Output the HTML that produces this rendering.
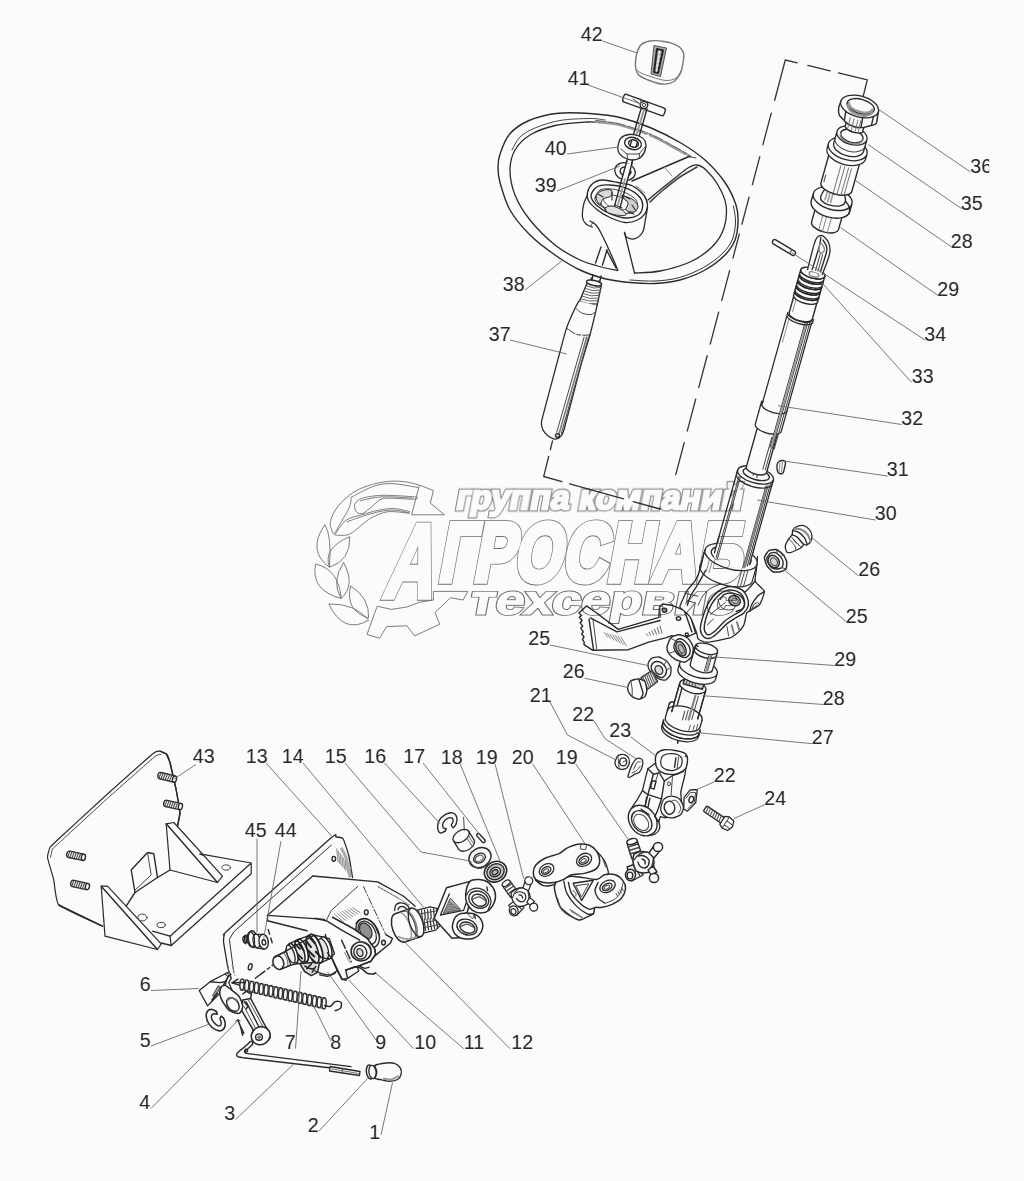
<!DOCTYPE html>
<html lang="ru">
<head>
<meta charset="utf-8">
<title>Рулевая колонка</title>
<style>
html,body{margin:0;padding:0;background:#fafbfa;}
body{width:1024px;height:1181px;overflow:hidden;font-family:"Liberation Sans",sans-serif;}
svg{display:block;position:absolute;left:0;top:0;}
.l{fill:none;stroke:#2a2a2a;stroke-width:1.4;stroke-linecap:round;stroke-linejoin:round;}
.t{fill:none;stroke:#484848;stroke-width:1;stroke-linecap:round;stroke-linejoin:round;}
.f{fill:#fafbfa;stroke:#2a2a2a;stroke-width:1.4;stroke-linecap:round;stroke-linejoin:round;}
.d{fill:#444;stroke:none;}
.ld{fill:none;stroke:#6a6a6a;stroke-width:0.9;}
.n{font-family:"Liberation Sans",sans-serif;font-size:19.6px;fill:#2a2a2a;}
</style>
</head>
<body>
<svg width="1024" height="1181" viewBox="0 0 1024 1181" style="filter:grayscale(1)">
<rect x="0" y="0" width="1024" height="1181" fill="#fafbfa"/>
<!-- 10_dash.svg -->
<path class="l" d="M862.6 98.5 L867.3 79.8 L785.3 60 L675 477.5" style="stroke:#333;stroke-width:1.3;stroke-dasharray:49 8.5 23 11 54 13 33 12 29 13 28 10 25 13 31 12 33 12 33 12 33 12 33 12 33 12"/>
<path class="l" d="M552.5 441 L543.7 476.5" style="stroke:#333;stroke-width:1.3;stroke-dasharray:9 7 20 5"/>
<path class="l" d="M543.7 476.5 L660 509" style="stroke:#333;stroke-width:1.3;stroke-dasharray:19 8 56 10 30 6"/>

<!-- 20_wheel.svg -->
<path class="l" d="M498 168 C498 163.4 497.9 160.3 499.8 154.7 C501.7 149.1 504.6 139.9 509.5 134.2 C514.4 128.5 520.9 124 529 120.5 C537.1 117 547.8 114.3 558.4 113.2 C569 112.1 582.2 113 592.5 113.7 C602.8 114.4 610.4 115.2 620 117.5 C629.6 119.8 640 123.3 650 127.5 C660 131.7 670.8 137.1 680 142.5 C689.2 147.9 697.5 153.3 705 160 C712.5 166.7 719.8 175 725 182.5 C730.2 190 733.8 198.4 736 205 C738.2 211.6 738.2 216.2 738 222 C737.8 227.8 737.2 234.5 735 240 C732.8 245.5 730 250 725 255 C720 260 712.5 265.8 705 270 C697.5 274.2 688.3 277.8 680 280 C671.7 282.2 663.3 283.1 655 283.5 C646.7 283.9 638.3 283.3 630 282.5 C621.7 281.7 613.3 280.8 605 278.7 C596.7 276.6 588.3 273.9 580 270 C571.7 266.1 563.3 260.8 555 255 C546.7 249.2 537.5 242.5 530 235 C522.5 227.5 515 218.8 510 210 C505 201.2 502 189.5 500 182.5 C498 175.5 498 172.6 498 168Z" style="stroke-width:1.4"/>
<path class="t" d="M733.5 206 C733.8 208.7 735.7 216.5 735.5 222 C735.3 227.5 734.6 233.8 732.5 239 C730.4 244.2 727.8 248.2 723 253 C718.2 257.8 710.8 263.4 703.5 267.5 C696.2 271.6 687.6 275.2 679.5 277.5 C671.4 279.8 663.2 280.6 655 281 C646.8 281.4 634.2 280.2 630 280" style="stroke:#333"/>
<path class="l" d="M600 122.5 C597.9 122.4 595 121.5 587.5 122 C580 122.5 564.6 123.3 555 125.5 C545.4 127.7 536.7 130.9 530 135 C523.3 139.1 518.3 144.2 515 150 C511.7 155.8 510 162.5 510 170 C510 177.5 511.7 186.7 515 195 C518.3 203.3 523.3 211.7 530 220 C536.7 228.3 546.7 238.3 555 245 C563.3 251.7 572.9 256.5 580 260 C587.1 263.5 591.3 264.2 597.5 266 C603.7 267.8 613.8 269.8 617 270.5" style="stroke-width:1.3"/>
<path class="t" d="M512 150 C513.3 147.8 516.2 140.7 520 137 C523.8 133.3 528.3 130.8 535 128 C541.7 125.2 550.8 122.1 560 120.5 C569.2 118.9 582.5 118.6 590 118.5 C597.5 118.4 602.5 119.8 605 120"/>
<path class="t" d="M596 121.5 C600 122.1 611 122.8 620 125 C629 127.2 640.8 131.2 650 135 C659.2 138.8 668.3 144.4 675 148 C681.7 151.6 687.5 155.1 690 156.5" style="stroke:#9a9a9a;stroke-width:2.8;stroke-dasharray:16 2 22 3 9 4"/>
<path class="t" d="M596 120.5 C600 121.1 611 121.8 620 124 C629 126.2 640.8 130.2 650 134 C659.2 137.8 668.3 143.4 675 147 C681.7 150.6 687.5 154.1 690 155.5" style="stroke:#555;stroke-width:0.8;stroke-dasharray:10 3 5 2"/>
<path class="l" d="M634.5 273 C638.8 272.7 650.8 272.8 660 271 C669.2 269.2 681.3 266 690 262 C698.7 258 706.3 252.7 712 247 C717.7 241.3 721.7 235 724 228 C726.3 221 727 212.2 726 205 C725 197.8 721.3 190.8 718 185 C714.7 179.2 709.5 173.3 706 170 C702.5 166.7 700 165.3 697 165 C694 164.7 691.7 165.8 688 168 C684.3 170.2 679.7 174.3 675 178 C670.3 181.7 664.5 186.3 660 190 C655.5 193.7 650 198.3 648 200" style="stroke-width:1.3"/>
<path class="t" d="M697 167 C694.2 168.7 685.8 173 680 177 C674.2 181 667 186.8 662 191 C657 195.2 652 200.2 650 202" style="stroke-width:1.6;stroke:#444"/>
<path class="l" d="M632 181 L689 156.5"/>
<path class="t" d="M689 156.5 L696 158"/>
<path class="t" d="M664 167 L672 176" style="stroke:#888"/>
<path class="t" d="M636 186 L645 193" style="stroke:#888"/>
<path class="f" d="M587.5 192.5 C588.1 189.6 590 185.8 592.5 183.7 C595 181.6 598.3 180.2 602.5 180 C606.7 179.8 612.5 181.5 617.5 182.5 C622.5 183.5 628.1 183.9 632.5 186 C636.9 188.1 641.2 191.8 643.7 195 C646.2 198.2 647.3 201.9 647.5 205 C647.7 208.1 646.7 211.2 645 213.7 C643.3 216.2 640.8 218.5 637.5 220 C634.2 221.5 629.6 222.9 625 222.5 C620.4 222.1 614.6 219.6 610 217.5 C605.4 215.4 601 212.8 597.5 210 C594 207.2 590.4 203.9 588.7 201 C587 198.1 586.9 195.4 587.5 192.5Z" style="stroke-width:1.3"/>
<path class="l" d="M591 196 C591 192.8 594.3 188.3 597.5 186.5 C600.7 184.7 605 184.6 610 185 C615 185.4 622.5 186.6 627.5 188.7 C632.5 190.8 637.5 194.4 640 197.5 C642.5 200.6 642.9 204.5 642.5 207.5 C642.1 210.5 640.4 213.8 637.5 215.5 C634.6 217.2 629.6 218.3 625 218 C620.4 217.7 614.6 215.7 610 213.7 C605.4 211.7 600.7 208.9 597.5 206 C594.3 203.1 591 199.2 591 196Z"/>
<path class="t" d="M595 198 C595.3 195.7 597.2 191.5 600 190 C602.8 188.5 607.7 188.5 612 189 C616.3 189.5 622 191.2 626 193 C630 194.8 634.2 197.5 636 200 C637.8 202.5 637.8 205.8 637 208 C636.2 210.2 633.8 212.2 631 213 C628.2 213.8 624 213.7 620 213 C616 212.3 610.7 210.5 607 209 C603.3 207.5 600 205.8 598 204 C596 202.2 594.7 200.3 595 198Z"/>
<path class="t" d="M603 199 C603 197 607.2 195.3 610 195 C612.8 194.7 617 195.8 620 197 C623 198.2 626.7 200.2 628 202 C629.3 203.8 629.3 206.7 628 208 C626.7 209.3 623 210.2 620 210 C617 209.8 612.8 208.8 610 207 C607.2 205.2 603 201 603 199Z"/>
<path class="l" d="M596 197 C596.2 194.7 598.5 192.2 601 191 C603.5 189.8 609.3 189.2 611 190 C612.7 190.8 612.3 194.5 611 196 C609.7 197.5 604.8 197.5 603 199 C601.2 200.5 601.2 205.3 600 205 C598.8 204.7 595.8 199.3 596 197Z" style="fill:#d9d9d9;stroke-width:1"/>
<path class="l" d="M622 196 C622.7 195.3 629.3 197.3 632 199 C634.7 200.7 637.7 203.8 638 206 C638.3 208.2 636 211.3 634 212 C632 212.7 627 211.5 626 210 C625 208.5 628.7 205.3 628 203 C627.3 200.7 621.3 196.7 622 196Z" style="fill:#cfcfcf;stroke-width:1"/>
<path class="l" d="M605 208 C605.8 207 609.2 205.7 612 206 C614.8 206.3 619.7 208.5 622 210 C624.3 211.5 627 214.2 626 215 C625 215.8 619.2 215.5 616 215 C612.8 214.5 608.8 213.2 607 212 C605.2 210.8 604.2 209 605 208Z" style="fill:#e0e0e0;stroke-width:1"/>
<path class="l" d="M600 203 L606 210 M612 192 L612 200 M622 195 L630 199 M632 205 L636 211 M615 205 L622 208 M598 194 L603 197 M628 212 L634 214" style="stroke-width:1.1"/>
<path class="l" d="M587 196 C586.4 197.5 584.2 201.4 583.5 205 C582.8 208.6 582.1 214.3 582.5 217.5 C582.9 220.7 584.4 222.4 586 224 C587.6 225.6 591 226.5 592 227" style="stroke-width:1.3"/>
<path class="l" d="M647.5 207.5 C647.1 209.9 645.8 217.8 645 222 C644.2 226.2 644.2 229.7 642.5 232.5 C640.8 235.3 637.6 237.9 635 238.7 C632.4 239.5 628.8 238.5 627 237.5 C625.2 236.5 624.9 233.3 624.5 232.5" style="stroke-width:1.3"/>
<path class="l" d="M590 221 C591 221.7 594.2 223 596 225 C597.8 227 598.7 228.5 601 233 C603.3 237.5 607.2 245.8 610 252 C612.8 258.2 616.7 267.4 618 270.5" style="stroke-width:1.3"/>
<path class="l" d="M624.5 232.5 L634.5 273" style="stroke-width:1.3"/>
<path class="t" d="M592 227 Q590 224 594 222"/>
<path class="l" d="M601 247 L595.5 263 M607 250 L602.5 265 M591.5 278 L589.5 284 M599 281 L598 284"/>
<path class="l" d="M606.5 250 L616 268"/>

<!-- 21_wheeltop.svg -->
<path class="f" d="M640 46 C642.4 42.5 646 41.8 650 41 C654 40.2 659.3 40.7 664 41.5 C668.7 42.3 674.8 44.1 678 46 C681.2 47.9 682.7 50.2 683.5 53 C684.3 55.8 683.6 59.5 683 63 C682.4 66.5 681.7 70.8 680 74 C678.3 77.2 676 80.3 673 82 C670 83.7 666.2 84.3 662 84 C657.8 83.7 652 81.7 648 80 C644 78.3 640.1 77 638 74 C635.9 71 635.2 66.7 635.5 62 C635.8 57.3 637.6 49.5 640 46Z" style="stroke:#777"/>
<path class="t" d="M637 70 C637.7 70.5 638.5 71.8 641 73 C643.5 74.2 647.8 75.8 652 77 C656.2 78.2 662 80.3 666 80.5 C670 80.7 673.5 79.6 676 78 C678.5 76.4 680.2 72.2 681 71" style="stroke:#777"/>
<path d="M654 45.5 L666.5 48 L660.5 76.5 L651 74 Z" fill="#a8a8a8" stroke="#444" stroke-width="0.9"/>
<path class="t" d="M657 49 L663 50.5 L658 73 L654 72 Z" style="stroke:#222;stroke-width:2;stroke-dasharray:3 1.4"/>
<path class="t" d="M659.5 51 L656.5 71" style="stroke:#eee;stroke-width:1.6;stroke-dasharray:2.5 2"/>
<g transform="rotate(20 644 105)">
<rect class="f" x="622" y="101" width="44" height="8" rx="2.5"/>
</g>
<path class="l" d="M641 109 L631.5 141 M647 109 L637.5 142"/>
<path class="t" d="M644 110 L634.5 141" style="stroke:#999;stroke-width:2"/>
<ellipse class="f" cx="644" cy="105" rx="3.8" ry="3.4"/>
<ellipse class="t" cx="644" cy="105" rx="1.8" ry="1.6"/>
<path class="t" d="M633 99 L640 104 M640 98.5 L641 102"/>
<path class="f" d="M618 146 C618.4 143.7 619.2 139.9 621 138 C622.8 136.1 626 134.8 629 134.5 C632 134.2 636.3 134.9 639 136 C641.7 137.1 643.9 138.8 645 141 C646.1 143.2 646.2 146.3 645.5 149 C644.8 151.7 643.2 155.2 641 157 C638.8 158.8 635 160 632 160 C629 160 625.2 158.3 623 157 C620.8 155.7 619.3 153.8 618.5 152 C617.7 150.2 617.6 148.3 618 146Z" style="stroke-width:1.3"/>
<ellipse class="l" cx="633" cy="143.5" rx="8.5" ry="6" transform="rotate(15 633 143.5)"/>
<ellipse class="l" cx="633.5" cy="143.5" rx="5" ry="3.6" transform="rotate(15 633.5 143.5)"/>
<path class="t" d="M621 149 L627 154 L639 154 L645 147 M627 154 L628 159.5 M639 154 L640 158" style="stroke:#444"/>
<path class="l" d="M631.5 141 L630 146 M637.5 142 L636 147"/>
<path class="l" d="M627 160 L624 170 M632.5 160.5 L629.5 171"/>
<ellipse class="f" cx="625" cy="171.5" rx="10.5" ry="8.5" transform="rotate(20 625 171.5)" style="stroke-width:1.3"/>
<ellipse class="l" cx="625.5" cy="171.5" rx="5.5" ry="4.3" transform="rotate(20 625.5 171.5)"/>
<path class="f" d="M626.5 163 L621.5 181 L627 182.5 L632 164.5Z" style="stroke:none"/>
<path class="l" d="M626.8 161 L614.5 206 M632.3 162 L620 208"/>
<path class="t" d="M625 179 L617.5 206" style="stroke:#999;stroke-width:1.8"/>

<!-- 22_p37.svg -->
<path class="l" d="M593 275 L591.5 282 M601 276 L599.5 283"/>
<path class="f" d="M587.2 283 L578.8 302.8 L597.1 305.4 L601.6 284Z"/>
<ellipse class="f" cx="594" cy="283" rx="7.6" ry="2.6" transform="rotate(12 594 283)"/>
<path class="t" d="M587 286 Q593.6 289.4 601.2 287.5" style="stroke:#666"/>
<path class="t" d="M585.8 288.6 Q592.7 292 600.6 290.1" style="stroke:#666"/>
<path class="t" d="M584.7 291.1 Q591.8 294.6 599.9 292.8" style="stroke:#666"/>
<path class="t" d="M583.5 293.7 Q590.9 297.2 599.3 295.4" style="stroke:#666"/>
<path class="t" d="M582.3 296.3 Q590 299.8 598.7 298.1" style="stroke:#666"/>
<path class="t" d="M581.1 298.9 Q589.1 302.4 598.1 300.7" style="stroke:#666"/>
<path class="t" d="M580 301.4 Q588.2 305 597.4 303.4" style="stroke:#666"/>
<path class="f" d="M578.8 301.2 C578.2 302.3 575.6 306.8 574.2 309.9 C572.8 313.1 568.5 322.3 566.6 327.9 C564.7 333.6 560.7 349.2 558.2 358.4 C555.7 367.7 547.2 399.7 545.2 407.2 C543.3 414.7 541.7 419.8 541.4 422.4 C541.2 425.1 542.2 428.5 543 430.1 C543.7 431.6 546.3 434.4 547.5 435.4 C548.8 436.4 552.4 438.5 553.6 438.9 C554.9 439.3 557.4 438.7 558.2 438.4 C559 438.2 559.8 437.6 560.5 436.5 C561.2 435.3 562 436.6 564.3 428.5 C566.6 420.5 577.3 378.6 580.3 367.6 C583.3 356.5 588.3 341.3 590.2 334 C592.2 326.8 596.3 308.7 597.1 305.4" style="stroke-width:1.3"/>
<path class="t" d="M575.7 308.1 C576.7 308.9 579.3 311.9 581.8 313 C584.4 314.1 588.6 314.8 591 314.5 C593.3 314.2 595 311.7 595.9 311.2"/>
<path class="t" d="M567.3 328.7 C568.7 329.6 573.1 332.9 575.7 334 C578.4 335.1 580.9 335.1 583.4 335.2 C585.8 335.4 589.1 334.9 590.2 334.8" style="stroke:#333;stroke-dasharray:9 2 4 2"/>
<path class="t" d="M586.7 337.1 L559 433.9" style="stroke:#777;stroke-width:1.6"/>
<path class="t" d="M584.1 337.1 L556.7 432.3"/>
<path class="t" d="M588.5 337.1 L561.2 433.9"/>
<ellipse class="l" cx="557.5" cy="435.5" rx="2" ry="1.8"/>

<!-- 30_coltop.svg -->
<g transform="translate(859.6 106.5) rotate(15.7)">
<path class="f" d="M-15 110 L-15 124 A14 6.5 0 0 0 13 124 L13 110"/>
<path class="t" d="M-6 112 L-6 129 M-2 112.5 L-2 130 M3 112 L3 130" style="stroke:#888"/>
<path class="f" d="M-21 96 L-21 104 A20 11 0 0 0 19 104 L19 96 A20 11 0 0 0 -21 96 A20 11 0 0 0 19 96"/>
<path class="f" d="M-13 97 C-12.8 94.8 -11.8 90 -10 88 C-8.2 86 -4.8 85.2 -2 85 C0.8 84.8 4.7 85.3 7 87 C9.3 88.7 11.8 92.7 12 95 C12.2 97.3 10.5 99.7 8 101 C5.5 102.3 0.2 103 -3 103 C-6.2 103 -9.3 102 -11 101 C-12.7 100 -13.2 99.2 -13 97Z"/>
<path class="t" d="M-8 90 L-8 99 M-5 88 L-5 100 M-2 88 L-2 100" style="stroke:#999;stroke-width:1.6"/>
<path class="l" d="M12 95 Q19 99 19 106"/>
<path class="f" d="M-16.5 54 L-16.5 84 A16 7 0 0 0 15.5 84 L15.5 54"/>
<path class="t" d="M-2 62 L-2 90 M2 62 L2 91 M6 62 L6 90 M9 62 L9 89" style="stroke:#777"/>
<path class="t" d="M-14 75 L-14 82"/>
<path class="f" d="M-20 44 L-20 49 A20 11 0 0 0 20 49 L20 44 A20 11 0 0 0 -20 44 A20 11 0 0 0 20 44" style="stroke-width:1.3"/>
<path class="f" d="M-15 30 L-15 42 A15.5 9 0 0 0 16 42 L16 30 A15.5 9 0 0 0 -15 30 A15.5 9 0 0 0 16 30" style="stroke-width:1.3"/>
<ellipse class="l" cx="0.5" cy="30.5" rx="11.5" ry="6.3"/>
<path class="t" d="M-11 31.5 A11.5 6.3 0 0 0 12 31.5" style="stroke:#888;stroke-width:1.5"/>
<path class="t" d="M-15 37 A15.5 9 0 0 0 16 37"/>
<path class="f" d="M-19.5 0 C-19.5 0.9 -20.1 5.1 -19.8 7 C-19.5 8.9 -18.4 12.4 -17 14 C-15.6 15.6 -10.2 17.7 -9 19 C-7.8 20.3 -9.2 23 -8 24 C-6.8 25 -2.3 26.4 0 26.5 C2.3 26.6 8.2 25.5 9.5 24.5 C10.8 23.5 8.6 20.6 10 19 C11.4 17.4 18.9 14.4 20.2 12.5 C21.5 10.6 20.1 6.8 20 5 C19.9 3.2 19.5 -0.2 19.4 -1" style="stroke-width:1.4"/>
<path class="l" d="M-9 19 Q0 23 10 19"/>
<ellipse class="f" cx="0" cy="0" rx="19.5" ry="10.5" style="stroke-width:1.3"/>
<ellipse class="l" cx="1" cy="-0.5" rx="14" ry="7"/>
<path class="t" d="M-12 1.5 A13 6.5 0 0 0 14 1.5" style="stroke:#888;stroke-width:1.6"/>
<path class="t" d="M-10.5 3.5 A11.5 5.5 0 0 0 12.5 3.5" style="stroke:#999;stroke-width:1.2"/>
<path class="l" d="M-12 8.5 L-11 16.5 M6 10.3 L7 19.5 M16 6 L16.5 14.5"/>
<path class="t" d="M-6 13 L-5.5 24 M-2 13.5 L-1.5 25 M2 13.5 L2.5 25 M5 13 L5.5 24" style="stroke:#777"/>
<path class="t" d="M-11 -0.5 A12 5.6 0 0 0 13 -0.5" style="stroke:#999;stroke-width:2.4"/>
</g>

<!-- 31_tube.svg -->
<g transform="translate(755.5 475) rotate(15.7)">
<path class="f" d="M-18.5 0 L-18.5 84 L18.5 84 L18.5 0Z" style="stroke:none"/>
<path class="l" d="M-18.5 0 L-18.5 80 M18.5 0 L18.5 84" style="stroke-width:1.3"/>
<path class="t" d="M-15.5 6 L-15.5 78 M-14 6 L-14 78" style="stroke:#444"/>
<path class="t" d="M13 8 L13 86 M15 7 L15 86 M16.8 5 L16.8 86" style="stroke:#333"/>
<path class="t" d="M14 8 L14 86" style="stroke:#888;stroke-width:2.2"/>
<ellipse class="f" cx="0" cy="0" rx="18.5" ry="8" style="stroke-width:1.3"/>
<path class="l" d="M-18.5 0 L-18.5 4 A18.5 8 0 0 0 18.5 4 L18.5 0" style="stroke-width:1.2"/>
<ellipse class="l" cx="0.5" cy="-1" rx="13.5" ry="5.5"/>
<path class="t" d="M-3 -4 L-2 1 M1 -4 L2 2" style="stroke:#666;stroke-width:1.4"/>
</g>

<!-- 32_shaft.svg -->
<g transform="translate(859.6 106.5) rotate(15.7)">
<path class="f" d="M-11.5 338.1 L-11.5 377.6 A10.5 4.5 0 0 0 9.5 377.6 L9.5 338.1"/>
<path class="t" d="M5 342.3 L5 375.5 M7.5 342.3 L7.5 375.5"/>
<path class="f" d="M-14.5 310.1 L-14.5 334 A13.5 5.5 0 0 0 12.5 334 L12.5 310.1" style="stroke-width:1.3"/>
<path class="f" d="M-13.3 221.8 L-13.3 313.2 A12.8 5 0 0 0 12.3 313.2 L12.3 221.8" style="stroke-width:1.3"/>
<path class="l" d="M-13.3 310.1 L-14.5 315.3"/>
<path class="t" d="M6 219.7 L6 352.7 M8.5 219.7 L8.5 352.7 M10.5 219.7 L10.5 352.7" style="stroke:#444"/>
<path class="t" d="M7.3 219.7 L7.3 352.7" style="stroke:#999;stroke-width:1.6"/>
<path class="t" d="M-10.5 223.9 L-10.5 247.7" style="stroke:#999"/>
<path class="l" d="M-13.5 217.6 A13.5 5.5 0 0 0 13.5 217.6 M-13.5 220.1 A13.5 5.5 0 0 0 13.5 220.1" style="stroke-width:1.2"/>
<path class="f" d="M-12 201 L-12 217.6 A12 5 0 0 0 12 217.6 L12 201"/>
<path class="t" d="M-9 204.1 L-9 215.5" style="stroke:#888"/>
<path class="f" d="M-12.5 177 A12.5 5 0 0 0 12.5 177 L12.5 173 A12.5 5 0 0 1 -12.5 173Z"/>
<path class="l" d="M-12.5 173 A12.5 5 0 0 0 12.5 173"/>
<path class="f" d="M-12.5 182.6 A12.5 5 0 0 0 12.5 182.6 L12.5 178.6 A12.5 5 0 0 1 -12.5 178.6Z"/>
<path class="l" d="M-12.5 178.6 A12.5 5 0 0 0 12.5 178.6"/>
<path class="f" d="M-12.5 188.2 A12.5 5 0 0 0 12.5 188.2 L12.5 184.2 A12.5 5 0 0 1 -12.5 184.2Z"/>
<path class="l" d="M-12.5 184.2 A12.5 5 0 0 0 12.5 184.2"/>
<path class="f" d="M-12.5 193.8 A12.5 5 0 0 0 12.5 193.8 L12.5 189.8 A12.5 5 0 0 1 -12.5 189.8Z"/>
<path class="l" d="M-12.5 189.8 A12.5 5 0 0 0 12.5 189.8"/>
<path class="f" d="M-12.5 199.4 A12.5 5 0 0 0 12.5 199.4 L12.5 195.4 A12.5 5 0 0 1 -12.5 195.4Z"/>
<path class="l" d="M-12.5 195.4 A12.5 5 0 0 0 12.5 195.4"/>
<ellipse class="f" cx="0" cy="173" rx="12.5" ry="5"/>
<ellipse class="t" cx="1.5" cy="174" rx="5" ry="2.5" style="stroke:#888;stroke-width:1.5"/>
<path class="f" d="M-6 170.9 C-6.1 167.4 -6.6 149 -6.5 144.5 C-6.4 140.1 -6.1 138.9 -5.5 137.5 C-4.9 136.2 -3 134.8 -2 134.5 C-1 134.3 0.8 134.9 2 135.5 C3.2 136.2 5.9 138.1 7 139.5 C8.1 141 10 144.5 10.5 146.5 C11 148.5 11.1 151.1 11 154.5 C10.9 157.9 9.7 169.6 9.5 171.9" style="stroke-width:1.3"/>
<path class="l" d="M-2 136.5 C-1.8 137.9 -1.1 139 -1 144.5 C-0.9 150.1 -1.4 165.6 -1.5 169.8"/>
<path class="l" d="M1 138.5 C1.7 139.2 3.9 140.9 5 142.5 C6.1 144.2 7.2 144 7.5 148.5 C7.8 153.1 7.1 166.3 7 169.8"/>
<path class="t" d="M-1 142.5 C-0.7 141.5 1 142.7 2 143.5 C3 144.4 4.8 146.2 5 147.5 C5.2 148.9 3.8 151.2 3 151.5 C2.2 151.9 0.7 151 0 149.5 C-0.7 148 -1.3 143.5 -1 142.5Z" style="stroke:#888;stroke-width:1.4"/>
<path class="t" d="M2 152.5 L2 169.8 M4.5 152.5 L4.5 169.8"/>
</g>
<g transform="translate(772.8 240.8) rotate(31)"><rect class="f" x="0" y="-2.3" width="26" height="4.6" rx="2"/><path class="t" d="M21 -2.3 L21 2.3"/></g>
<path class="f" d="M777.5 471 C777.1 469.6 776.8 466.6 777 465 C777.2 463.4 778 462.2 779 461.5 C780 460.8 781.9 460.4 783 460.5 C784.1 460.6 785.2 460.8 785.5 462 C785.8 463.2 784.9 466.2 784.5 468 C784.1 469.8 783.8 472.1 783 473 C782.2 473.9 780.4 473.8 779.5 473.5 C778.6 473.2 777.9 472.4 777.5 471Z"/>
<path class="t" d="M780 463 L779 472 M782.5 462 L781.5 472" style="stroke:#888"/>

<!-- 33_pedal.svg -->
<path class="f" d="M578.9 612.9 L586.5 605.9 L597.3 613.5 L618.2 629.4 L658.9 617.3 L659.5 607.1 L662.7 604 L671.6 605.2 L684.3 610.3 L690.6 616.7 L695.7 633.2 L684.3 638.2 L671.6 635.7 L666.5 637.6 L648.7 642.1 L628.4 649.7 L592.9 650.3 L584 644.6 L584.2 642.1 L582.4 639.3 L584 637 L581.7 633.8 L583.3 631.9 L580.8 628.1 L582.7 626.2 L580.2 622.8 L582.1 620.5 L579.5 617.3 L581.4 615.4 L578.9 612.9Z" style="stroke-width:1.4"/>
<path class="l" d="M590.3 617.9 L617 631.9 L660.1 620.5"/>
<path class="l" d="M589 619.2 L593.5 649.7"/>
<path class="t" d="M592.9 618.6 L596.7 648.7"/>
<path class="t" d="M659.5 607.1 L660.8 617.3"/>
<path class="t" d="M604.3 632.5 L607.5 637" style="stroke:#888"/>
<path class="t" d="M607.1 633.3 L610.6 638.5" style="stroke:#888"/>
<path class="t" d="M609.9 634.1 L613.8 640" style="stroke:#888"/>
<path class="t" d="M612.7 634.8 L617 641.5" style="stroke:#888"/>
<path class="t" d="M615.4 635.6 L620.1 643.1" style="stroke:#888"/>
<path class="t" d="M618.2 636.3 L623.3 644.6" style="stroke:#888"/>
<path class="t" d="M621 637.1 L626.5 646.1" style="stroke:#888"/>
<path class="t" d="M646.2 633.8 L648.1 635.7" style="stroke:#666"/>
<path class="t" d="M649 632.3 L650.9 635.2" style="stroke:#666"/>
<path class="t" d="M651.8 630.8 L653.7 634.7" style="stroke:#666"/>
<path class="t" d="M654.5 629.2 L656.5 634.2" style="stroke:#666"/>
<path class="t" d="M657.3 627.7 L659.2 633.7" style="stroke:#666"/>
<path class="t" d="M660.1 626.2 L662 633.2" style="stroke:#666"/>
<ellipse class="l" cx="664.6" cy="610.3" rx="2.2" ry="2"/>
<ellipse class="t" cx="664.8" cy="610.5" rx="1" ry="0.9"/>
<ellipse class="l" cx="678.5" cy="618.6" rx="2.2" ry="1.8"/>
<ellipse class="l" cx="686.8" cy="634.4" rx="1.6" ry="1.4"/>
<path class="l" d="M684.3 610.3 L691.9 631.9"/>

<!-- 34_bracket.svg -->
<path class="f" d="M704.2 552 C703.7 554.1 701 566.9 699.9 570.3 C698.8 573.7 696.5 578.6 695 580.9 C693.6 583.2 688.8 587.9 687.4 590.1 C686 592.2 683.7 597.3 682.9 599.2 C682 601.2 679.8 605.6 679.8 606.8 C679.8 608.1 681.6 608.6 682.9 609.9 C684.1 611.1 688.9 614.8 690.5 617.5 C692.1 620.2 695.7 630.2 696.6 632.7 C697.5 635.2 697.2 637.8 698.1 638.8 C699 639.9 702.8 641.5 704.2 641.9 C705.6 642.2 707.8 642.2 710.3 641.9 C712.8 641.5 723 639.4 725.5 638.8 C728 638.3 730 638.2 731.6 637.3 C733.2 636.4 737.8 632.6 739.2 631.2 C740.6 629.8 743.1 626.5 743.8 625.1 C744.5 623.7 745 620.4 745.3 619 C745.7 617.6 746.1 614 746.8 612.9 C747.5 611.9 750 610.8 751.4 609.9 C752.8 609 757.8 606.6 759 605.3 C760.3 604.1 761.4 600.8 762.1 599.2 C762.7 597.6 764.5 593 764.4 591.6 C764.2 590.2 761.6 588.3 760.5 587 C759.5 585.8 755.7 582.9 755.2 580.9 C754.7 579 756 573.1 756.3 570.3 C756.5 567.4 757.4 558.2 757.5 556.6" style="stroke-width:1.3"/>
<g transform="translate(731 557) rotate(15.7)">
<ellipse class="f" cx="0" cy="0" rx="27" ry="12" style="stroke-width:1.3"/>
<ellipse class="l" cx="0" cy="-0.5" rx="20.5" ry="8.5"/>
<path class="l" d="M-27 0 L-27 14 A27 12 0 0 0 27 19 L27 0" style="stroke-width:1.2"/>
<path class="t" d="M14 11 L14 26 M17 10 L17 25 M20 9 L20 24" style="stroke:#555"/>
<path class="t" d="M-20 9 L-20 20 M-17 10 L-17 21" style="stroke:#888"/>
</g>
<g transform="translate(755.5 475) rotate(15.7)">
<path class="f" d="M-18.5 70 L-18.5 88 A18.5 7 0 0 0 18.5 88 L18.5 70Z" style="stroke:none"/>
<path class="l" d="M-18.5 70 L-18.5 86 M18.5 70 L18.5 88" style="stroke-width:1.3"/>
<path class="t" d="M-15.5 70 L-15.5 90 M-14 70 L-14 91" style="stroke:#444"/>
<path class="t" d="M13 70 L13 92 M15 70 L15 91 M16.8 70 L16.8 90" style="stroke:#333"/>
<path class="t" d="M14 70 L14 92" style="stroke:#888;stroke-width:2.2"/>
</g>
<path class="l" d="M755.2 580.9 C754.6 581.7 753.1 583.7 751.4 585.5 C749.8 587.3 746.8 590.8 745.3 591.6 C743.8 592.4 742.8 590.3 742.3 590.1"/>
<path class="l" d="M764.4 591.6 C763.2 592.4 759.7 593.9 757.5 596.2 C755.3 598.5 752.7 602.8 751.4 605.3 C750.1 607.9 750.1 610.4 749.9 611.4"/>
<path class="t" d="M751.4 609.9 L753.7 604.6 L757.5 602.3 L759.8 604.6"/>
<path class="t" d="M752.9 608.4 L757.5 605.3"/>
<path class="f" d="M727 587 C724.5 587.7 720.6 589.3 717.9 591.6 C715.1 593.9 711 598.4 708.8 602.3 C706.5 606.2 703.9 613.4 702.7 617.5 C701.4 621.6 700.1 626.7 700.4 629.7 C700.6 632.7 702.7 636 704.2 637.3 C705.7 638.6 708.2 638.8 710.3 638.1 C712.3 637.4 715.4 634.9 717.9 632.7 C720.4 630.6 724.3 625.9 727 623.6 C729.8 621.3 733.7 619.1 736.2 617.5 C738.7 615.9 742 614.8 743.8 612.9 C745.6 611.1 747.9 607.8 748.4 605.3 C748.8 602.8 747.8 598.5 746.8 596.2 C745.9 593.9 744.1 591.5 742.3 590.1 C740.4 588.7 736.9 587.5 734.6 587 C732.4 586.6 729.5 586.3 727 587Z" style="stroke-width:1.4"/>
<path class="l" d="M727 590.4 C724.9 591 721.7 592.6 719.4 594.6 C717.1 596.7 713.9 600.1 711.8 603.8 C709.7 607.4 706.8 615.3 705.7 619 C704.6 622.8 704.1 626.7 704.2 628.9 C704.3 631.2 705.6 633.2 706.5 634 C707.4 634.8 708.8 634.9 710.3 634.3 C711.8 633.6 714.1 631.7 716.4 629.7 C718.7 627.6 722.8 622.8 725.5 620.5 C728.3 618.3 732.3 615.9 734.6 614.5 C737 613 740 612.1 741.5 610.6 C743 609.2 744.3 606.5 744.6 604.6 C744.8 602.6 744.2 599.4 743.5 597.7 C742.8 596 741.4 594.2 740 593.1 C738.5 592 735.8 590.8 733.9 590.4 C731.9 590 729.2 589.7 727 590.4Z"/>
<path class="l" d="M720.2 599.2 C720.8 598.5 722.1 595.7 724 594.6 C725.9 593.6 728.8 592.9 731.6 593.1 C734.4 593.4 738.6 594.5 740.7 596.2 C742.9 597.8 744.3 600.9 744.6 603 C744.8 605.2 743.7 607.7 742.3 609.1 C740.9 610.5 737.2 611 736.2 611.4"/>
<ellipse class="l" cx="734.6" cy="600.7" rx="6" ry="5" transform="rotate(25 734.6 600.7)" style="fill:#bbb"/>
<ellipse class="t" cx="735" cy="600.9" rx="3.4" ry="2.6" transform="rotate(25 735 600.9)" style="stroke:#555"/>
<path class="t" d="M717.9 599.2 C718.4 600.5 719.4 605.1 720.9 606.8 C722.5 608.6 725 609.5 727 609.9 C729.1 610.3 732.1 609.2 733.1 609.1"/>
<path class="t" d="M710.3 614.5 L725.5 602.3"/>
<path class="t" d="M707.2 625.1 L713.3 619"/>
<path class="t" d="M727 626.6 L728.6 635.8"/>
<path class="t" d="M731.6 625.1 L733.9 633.5" style="stroke:#777;stroke-width:1.8"/>
<path class="t" d="M736.9 622.1 L739.2 629.7" style="stroke:#777;stroke-width:1.8"/>
<path class="l" d="M705.7 570.3 C704.4 572.6 700.6 579.7 698.1 584 C695.5 588.3 692.2 592.6 690.5 596.2 C688.7 599.7 687.9 603.8 687.4 605.3"/>
<path class="t" d="M720.9 584 C719.2 584.7 713.3 586.5 710.3 588.6 C707.2 590.6 704.7 593.4 702.7 596.2 C700.6 599 698.8 603.8 698.1 605.3"/>
<path class="t" d="M684.4 593.1 L698.1 596.2"/>
<path class="t" d="M687.4 600.7 L695 603"/>

<!-- 36_nut25_fit26.svg -->
<path class="f" d="M786.7 551.9 C786 551 785 547.5 785.3 545.8 C785.6 544 787.8 540.4 788.7 538.9 C789.6 537.5 791.6 536 792.1 534.8 C792.7 533.6 792.2 531.1 792.8 530 C793.4 528.9 795.5 527.2 796.9 526.6 C798.4 526 802.1 525.2 803.7 525.6 C805.4 526 808.1 528 809.2 529.4 C810.3 530.7 811.8 533.9 811.9 535.5 C812.1 537.1 811.3 540.4 810.6 541.7 C809.9 542.9 807.4 544.7 806.5 545.1 C805.6 545.4 804.5 544 803.7 544.4 C803 544.8 802.1 547 801 547.8 C799.9 548.6 797 549.9 795.5 550.5 C794.1 551.2 791.3 552.4 790.1 552.6 C788.9 552.8 787.3 552.8 786.7 551.9Z" style="stroke-width:1.3"/>
<path class="l" d="M792.8 530.7 C793.7 530.9 796.3 530.9 798.3 532.1 C800.2 533.2 802.9 535.5 804.4 537.6 C805.9 539.6 806.7 543.3 807.2 544.4"/>
<path class="t" d="M794.2 528.7 C795.3 528.8 798.7 528.3 801 529.4 C803.3 530.4 806.3 532.9 807.8 534.8 C809.4 536.8 809.8 539.9 810.2 541" style="stroke:#888;stroke-width:2"/>
<path class="l" d="M792.1 534.8 C792.9 535.2 795.3 535.6 796.9 536.9 C798.5 538.1 800.6 541.1 801.7 542.3 C802.8 543.6 803.4 544 803.7 544.4"/>
<path class="t" d="M792.1 537.6 L795.5 542.3"/>
<path class="t" d="M793.8 539.5 L797.3 543.8"/>
<path class="t" d="M795.5 541.4 L799 545.3"/>
<path class="t" d="M797.3 543.3 L800.7 546.9"/>
<path class="t" d="M788.7 538.9 C789.3 539.5 791 541 792.1 542.3 C793.3 543.7 795 545.8 795.5 547.1 C796.1 548.5 795.5 550 795.5 550.5"/>
<path class="f" d="M764.4 557.4 C764.6 556.1 767.9 551.2 768.9 550.5 C769.9 549.9 775.2 549.2 776.4 549.5 C777.6 549.9 782.4 553.6 783.2 554.6 C784.1 555.6 786.4 560.3 786.7 561.5 C786.9 562.7 786.5 568.1 786 569 C785.5 569.9 781.6 571.5 780.5 571.7 C779.4 572 774.1 572.2 773 571.7 C771.8 571.2 767.5 566.8 766.8 565.6 C766.1 564.4 764.3 558.6 764.4 557.4Z" style="stroke-width:1.5"/>
<path class="l" d="M766.8 558.1 C767 557.3 769.5 553.7 770.3 553.3 C771 552.8 774.9 552.3 775.7 552.6 C776.6 552.9 779.9 555.9 780.5 556.7 C781.1 557.5 783.1 561.3 783.2 562.2 C783.4 563.1 782.4 567.1 781.9 567.6 C781.4 568.2 777.9 569 777.1 569 C776.2 569 772.4 568.1 771.6 567.6 C770.9 567.1 768.3 563.6 767.9 562.8 C767.5 562 766.6 558.9 766.8 558.1Z"/>
<ellipse class="l" cx="773.7" cy="561.5" rx="5.2" ry="6.6" transform="rotate(-35 773.7 561.5)" style="fill:#d5d5d5"/>
<ellipse class="t" cx="774" cy="561.8" rx="3" ry="4.2" transform="rotate(-35 774 561.8)"/>
<path class="t" d="M776.4 549.5 L777.1 552.6"/>
<path class="t" d="M783.2 554.6 L780.5 556.7"/>
<path class="t" d="M786 569 L781.9 567.6"/>

<!-- 37_bolt26L.svg -->
<path class="f" d="M648.1 663.6 C648.3 662.6 650.2 659.2 651.2 658.6 C652.3 657.9 657.3 656.8 658.9 657 C660.4 657.3 665.3 660.1 666.5 661.1 C667.7 662.1 670.5 666 670.9 667.4 C671.3 668.8 670.9 673.8 670.3 675.1 C669.7 676.3 666.4 679.8 665.2 680.1 C664.1 680.5 660.1 679.5 658.9 678.9 C657.6 678.2 653.5 674.8 652.5 673.8 C651.5 672.8 649.2 669.7 648.7 668.7 C648.3 667.7 647.8 664.6 648.1 663.6Z" style="stroke-width:1.3"/>
<path class="l" d="M651.2 666.2 C651.4 665 652.8 663 653.8 662.4 C654.8 661.8 657.5 661.4 658.9 661.7 C660.2 662.1 662.9 663.8 663.9 664.9 C665 666 666.3 668.6 666.5 670 C666.7 671.3 665.9 674 665.2 675.1 C664.5 676.1 662.6 677.6 661.4 677.6 C660.2 677.6 657.5 675.9 656.3 675.1 C655.1 674.2 653.2 672.4 652.5 671.2 C651.8 670.1 651.1 667.4 651.2 666.2Z"/>
<ellipse class="l" cx="658.9" cy="670" rx="3.6" ry="4.6" transform="rotate(-30 658.9 670)" style="fill:#ddd"/>
<path class="t" d="M666.5 661.1 L663.9 664.9"/>
<path class="t" d="M670.9 667.4 L666.5 670"/>
<path class="f" d="M651.2 671.2 L641.1 677.6 L646.2 690.3 L657.6 681.4Z"/>
<path class="t" d="M643 677 L647.7 689" style="stroke:#666;stroke-width:1.2"/>
<path class="t" d="M644.8 675.8 L649.5 687.6" style="stroke:#666;stroke-width:1.2"/>
<path class="t" d="M646.6 674.7 L651.2 686.2" style="stroke:#666;stroke-width:1.2"/>
<path class="t" d="M648.3 673.5 L653 684.8" style="stroke:#666;stroke-width:1.2"/>
<path class="t" d="M650.1 672.4 L654.8 683.4" style="stroke:#666;stroke-width:1.2"/>
<path class="t" d="M651.9 671.2 L656.6 682" style="stroke:#666;stroke-width:1.2"/>
<path class="f" d="M627.8 686.5 C628 685.4 629.9 681.5 630.9 680.8 C632 680 637.2 678.8 638.6 678.9 C640 678.9 644.1 680.3 644.9 681.4 C645.7 682.5 646.8 688.8 646.8 690.3 C646.8 691.8 645.7 695.8 644.9 696.6 C644.1 697.5 639.8 699.2 638.6 699.2 C637.3 699.2 633.2 697.4 632.2 696.6 C631.2 695.9 628.8 692.6 628.4 691.6 C628 690.5 627.5 687.6 627.8 686.5Z" style="stroke-width:1.4"/>
<path class="l" d="M638.6 678.9 C639 680.1 640.4 684.1 641.1 686.5 C641.8 688.9 643 691.6 643 693.5 C643 695.4 641.4 697.2 641.1 697.9"/>
<path class="t" d="M630.9 680.8 L632.2 689 L632.2 696.6"/>

<!-- 38_lower_sleeves.svg -->
<g transform="translate(692.8 686.5) rotate(15.7)">
<path class="f" d="M-19 40 A19 9 0 0 0 19 40 L19 44 A19 9 0 0 1 -19 44Z" style="stroke-width:1.3"/>
<path class="l" d="M-19 44 A19 9 0 0 0 19 44" style="stroke-width:1.3"/>
<path class="l" d="M-19 47 A19 9 0 0 0 19 47" style="stroke-width:1.2"/>
<path class="l" d="M-19 40 L-19 47 M19 40 L19 47"/>
<path class="f" d="M-13.5 0 L-13.5 37 A13.5 6.5 0 0 0 13.5 37 L13.5 0 A13.5 6.5 0 0 0 -13.5 0 A13.5 6.5 0 0 0 13.5 0" style="stroke-width:1.3"/>
<path class="f" d="M-18 30 L-18 37 A18 8.5 0 0 0 18 37 L18 30" style="stroke-width:1.3"/>
<path class="l" d="M-18 30 A18 8.5 0 0 1 18 30"/>
<path class="l" d="M-13.5 0 L-13.5 30 M13.5 0 L13.5 30" style="stroke-width:1.3"/>
<path class="l" d="M-10 4 L-10 22"/>
<path class="t" d="M5 8 L5 33" style="stroke:#888;stroke-width:2.2"/>
<path class="t" d="M8 8 L8 32 M2 24 L2 34 M-1 26 L-1 35"/>
<path class="l" d="M-18 22 L-18 30 M-14 20 Q-18 20 -18 24"/>
<path class="t" d="M8 38 L8 44 M12 37 L12 43 M15 35 L15 41" style="stroke:#666"/>
<path class="f" d="M-10 -10 L-10 0 L10 0 L10 -10Z" style="fill:#ccc"/>
<path class="t" d="M-7 -9 L-7 -1 M-4 -9 L-4 0 M-1 -9 L-1 0 M2 -9 L2 0" style="stroke:#555"/>
<path class="f" d="M-19 -19 L-19 -13 A19.5 9 0 0 0 20 -13 L20 -19 A19.5 9 0 0 0 -19 -19 A19.5 9 0 0 0 20 -19" style="stroke-width:1.3"/>
<path class="f" d="M-8.5 -40 L-8.5 -21 A11.5 5 0 0 0 14.5 -21 L14.5 -40 A11.5 5 0 0 0 -8.5 -40 A11.5 5 0 0 0 14.5 -40" style="stroke-width:1.3"/>
<path class="l" d="M-8.5 -36 A11.5 5 0 0 0 14.5 -36"/>
<path class="t" d="M7 -34 L7 -18 M10 -35 L10 -19" style="stroke:#444"/>
<path class="t" d="M8.5 -34 L8.5 -18" style="stroke:#999;stroke-width:2"/>
<path class="l" d="M-6 -40 Q-10 -42 -8 -37"/>
</g>
<path class="l" d="M678 741 L677.6 743" style="stroke-width:1.6"/>
<path class="f" d="M667 647.6 C667.1 646.1 669.3 639.5 670.5 638.2 C671.6 636.9 676.9 634.7 678.7 634.7 C680.4 634.7 686.6 636.9 688 638.2 C689.5 639.5 693 645.7 693.3 647.6 C693.7 649.5 692.4 655.5 691.6 657 C690.7 658.4 686.2 662 684.5 662.2 C682.9 662.5 676.7 660.2 675.2 659.3 C673.6 658.4 669.5 654.6 668.7 653.4 C667.9 652.3 666.8 649.1 667 647.6Z" style="stroke-width:1.4"/>
<path class="l" d="M674 645.2 C674.3 643.7 676.3 640.1 677.5 639.4 C678.8 638.7 681.8 639 683.4 640 C684.9 640.9 688.4 644.6 689.2 646.4 C690.1 648.2 690.3 652 689.8 653.4 C689.3 654.9 687 657.2 685.7 657.5 C684.4 657.9 681.3 656.6 679.8 655.8 C678.4 654.9 675.9 652.5 675.2 651.1 C674.4 649.7 673.7 646.8 674 645.2Z"/>
<ellipse class="l" cx="681" cy="648.7" rx="4.6" ry="7.6" transform="rotate(-25 681 648.7)" style="fill:#bbb"/>
<ellipse class="t" cx="681.3" cy="649" rx="2.4" ry="4.6" transform="rotate(-25 681.3 649)" style="stroke:#444"/>
<path class="t" d="M670.5 638.2 L676.3 641.1"/>
<path class="t" d="M668.7 653.4 L675.2 651.1"/>

<!-- 40_yoke23.svg -->
<path class="f" d="M655.4 763.2 L647.9 768.7 L645.1 779.6 L642.4 790.6 L636.9 800.2 L631.4 808.4 L641 811.1 L654.7 816.6 L658.8 822 L660.2 816.6 L665.6 817.9 L676.6 813.8 L682 808.4 L680.7 792 L684.8 775.5 L687.5 757.8Z" style="stroke-width:1.3"/>
<path class="f" d="M661.5 804.3 C662 802.7 663 799.9 664.3 798.8 C665.5 797.7 669.1 796.1 671.1 796.1 C673.1 796.1 677.7 797.3 679.3 798.8 C680.9 800.2 683.2 804.9 683.4 807 C683.6 809.1 682.1 813.1 680.7 814.5 C679.2 816 674.7 817.8 672.5 817.9 C670.3 818.1 665.8 816.9 664.3 815.9 C662.7 814.9 661.2 812 660.8 810.4 C660.5 808.9 661.1 805.8 661.5 804.3Z" style="stroke-width:1.3"/>
<path class="l" d="M664.3 805.6 C664.5 804.2 666 802.4 667 801.8 C668 801.2 670 801 671.1 801.5 C672.2 802.1 674.1 804.1 674.5 805.6 C674.9 807.2 674.7 810.4 673.8 811.8 C673 813.1 670.3 814.6 669 814.5 C667.8 814.4 666.1 812.4 665.4 811.1 C664.6 809.8 664 807 664.3 805.6Z"/>
<path class="t" d="M671.1 801.5 C671.6 801.3 672.7 800 673.8 800.2 C675 800.3 676.8 800.8 677.9 802.2 C679.1 803.6 680.6 806.5 680.7 808.4 C680.8 810.2 679 812.3 678.6 813.1"/>
<path class="f" d="M655.4 760.5 C655.3 758.5 655.6 755.1 656.7 753.7 C657.9 752.3 661.6 750.2 664.3 749.8 C666.9 749.4 673.7 750.2 676.6 750.7 C679.4 751.2 684 752.5 685.5 753.7 C686.9 754.8 687.5 757.1 687.5 759.1 C687.5 761.1 686.9 766.7 685.5 768.7 C684 770.7 679.4 773.5 676.6 774.2 C673.7 774.8 666.8 774.2 664.3 773.5 C661.7 772.8 658.6 770.4 657.4 768.7 C656.2 767 655.5 762.5 655.4 760.5Z" style="stroke-width:1.4"/>
<path class="l" d="M660.8 760.5 C661 759 661.6 756.7 662.9 755.7 C664.2 754.7 667.5 753.8 669.7 753.7 C672 753.5 676.1 753.9 677.9 754.8 C679.8 755.6 681.6 757.4 682 759.1 C682.4 760.9 681.9 765 680.7 766.7 C679.4 768.3 676.1 769.9 673.8 770.4 C671.6 770.8 667.5 770.1 665.6 769.4 C663.8 768.7 662.2 767.3 661.5 766 C660.8 764.6 660.6 762 660.8 760.5Z" style="stroke-width:1.2"/>
<path class="l" d="M675.9 757.8 L674.5 767.3"/>
<path class="t" d="M678.6 757.1 L677.2 768"/>
<ellipse class="d" cx="685.9" cy="756.1" rx="1.2" ry="1.2"/>
<path class="l" d="M647.9 768.7 L653.3 774.2 L660.2 772.8"/>
<path class="l" d="M653.3 774.2 L647.9 794.7 L645.1 805.6"/>
<path class="l" d="M660.2 774.2 L664.3 781 L672.5 775.5 L683.4 771.4"/>
<path class="l" d="M664.3 781 L661.5 798.8 L657.4 811.1 L654.7 816.6"/>
<path class="t" d="M672.5 776.2 L671.1 794.7"/>
<path class="l" d="M642.4 790.6 L647.9 794.7 L661.5 798.8"/>
<path class="l" d="M652 781 L650.6 787.9 L654 789.2 L656.1 781 L652 781"/>
<path class="l" d="M646.5 797.4 L645.1 807 L647.9 807.7 L649.9 798.1"/>
<path class="t" d="M655.4 764.6 L658.8 771.4 L656.1 779.6"/>
<ellipse class="t" cx="669" cy="783.8" rx="1.5" ry="2"/>
<ellipse class="f" cx="642.7" cy="820.6" rx="13" ry="16.5" transform="rotate(-38 642.7 820.6)" style="stroke-width:1.4"/>
<ellipse class="l" cx="641.7" cy="821.6" rx="9" ry="12" transform="rotate(-38 641.7 821.6)"/>
<ellipse class="t" cx="641.2" cy="822.4" rx="6.5" ry="9" transform="rotate(-38 641.2 822.4)"/>
<path class="l" d="M654.7 816.6 C655.4 817.5 658 820 658.8 822 C659.6 824.1 660.2 826.8 659.5 828.9 C658.8 830.9 656.6 833.2 654.7 834.3 C652.8 835.5 649 835.5 647.9 835.7" style="stroke-width:1.3"/>
<path class="t" d="M641 809 L642.7 810.4" style="stroke:#333;stroke-width:1.2"/>
<path class="t" d="M642.7 810.1 L644.3 811.5" style="stroke:#333;stroke-width:1.2"/>
<path class="t" d="M644.3 811.2 L645.9 812.6" style="stroke:#333;stroke-width:1.2"/>
<path class="t" d="M645.9 812.3 L647.6 813.7" style="stroke:#333;stroke-width:1.2"/>
<path class="t" d="M647.6 813.4 L649.2 814.8" style="stroke:#333;stroke-width:1.2"/>
<path class="f" d="M615 761.9 C615.2 760.6 616.8 756.6 617.8 755.7 C618.7 754.8 622 754.2 623.2 754.4 C624.4 754.5 627.3 756.1 628 757.1 C628.7 758 629.6 761.3 629.4 762.6 C629.2 763.8 627.6 767.2 626.7 768 C625.7 768.8 622.4 769.6 621.2 769.4 C620 769.2 617.1 767.5 616.4 766.7 C615.7 765.8 614.9 763.2 615 761.9Z" style="stroke-width:1.3"/>
<ellipse class="l" cx="623.2" cy="761.9" rx="3.5" ry="4"/>
<path class="t" d="M617.8 755.7 L619.1 767.3"/>
<path class="t" d="M623.2 761.9 L626 760.5"/>
<path class="f" d="M628 776.2 C628.3 774.8 631.1 766.7 632.1 764.6 C633.2 762.5 635.8 759.1 636.9 758.5 C638 757.8 641 758.4 641.7 759.1 C642.4 759.9 642.9 763.1 642.7 764.6 C642.4 766.1 640.6 771 639.6 772.1 C638.7 773.2 636 773.6 634.9 774.2 C633.7 774.8 630.9 776.9 630.1 777.2 C629.3 777.4 627.8 777.7 628 776.2Z" style="stroke-width:1.3"/>
<path class="t" d="M633.5 769.4 C634.1 768.3 635.8 763.8 636.9 762.6 C638.1 761.3 639.8 762 640.3 761.9"/>
<path class="t" d="M632.1 772.8 C632.8 772.5 634.9 771.9 636.2 770.8 C637.6 769.6 639.6 766.8 640.3 766"/>
<path class="f" d="M684.1 797.4 L690.2 789.9 L697.3 789.5 L695.7 802.9 L687.5 811.1 L683.7 809Z" style="stroke-width:1.3"/>
<path class="t" d="M686.1 798.1 L690.2 792.6 L695.7 792.6 L694.3 802.2 L688.2 808.4"/>
<ellipse class="l" cx="691.3" cy="799.5" rx="2.2" ry="3.2" transform="rotate(20 691.3 799.5)"/>
<g transform="translate(705 808.5) rotate(34)">
<rect class="f" x="0" y="-3.2" width="24" height="6.4" rx="1.5"/>
<path class="t" d="M2 -3.2 L3.2 3.2"/>
<path class="t" d="M4.6 -3.2 L5.8 3.2"/>
<path class="t" d="M7.2 -3.2 L8.4 3.2"/>
<path class="t" d="M9.8 -3.2 L11 3.2"/>
<path class="t" d="M12.4 -3.2 L13.6 3.2"/>
<path class="t" d="M15 -3.2 L16.2 3.2"/>
<path class="t" d="M17.6 -3.2 L18.8 3.2"/>
<path class="f" style="stroke-width:1.3" d="M21 -4.6 L25 -6.6 L31 -5.6 L33 0 L31 5.6 L25 6.6 L21 4.6Z"/>
<path class="t" d="M25 -6.6 L25 6.6 M25 -2 L32.5 -1.5 M25 2.6 L32 3"/>
</g>

<!-- 42_yoke20.svg -->
<path class="f" d="M596.6 879.4 C600.9 879.2 601.9 875.3 604.4 874.7 C606.9 874.1 612.8 873.9 615.3 874.7 C617.8 875.5 621.8 879.1 623.1 880.9 C624.5 882.8 625.7 886.5 625.5 888.8 C625.3 891 623.3 896 621.6 898.1 C619.8 900.2 614.9 903.1 612.2 904.4 C609.5 905.6 603.5 907.1 601.2 907.5 C599 907.9 596 906.7 595 907.5 C594 908.3 594.5 912.5 593.4 913.8 C592.4 915 589.1 916 587.2 916.9 C585.3 917.7 581.7 920.2 579.4 920 C577.1 919.8 572.5 917 570 915.3 C567.5 913.6 562.4 909.8 560.6 907.5 C558.9 905.2 557.6 900.8 556.7 898.1 C555.9 895.4 554.3 889.5 554.4 887.2 C554.5 884.9 555.2 882.4 557.5 880.9 C559.8 879.5 566.4 876.5 571.6 876.2 C576.8 876 592.2 879.6 596.6 879.4Z" style="stroke-width:1.5"/>
<ellipse class="l" cx="607.5" cy="886.4" rx="8.2" ry="5.6" transform="rotate(-28 607.5 886.4)" style="stroke-width:1.3"/>
<ellipse class="l" cx="607.2" cy="886.9" rx="5.2" ry="3.2" transform="rotate(-28 607.2 886.9)"/>
<ellipse class="t" cx="606.9" cy="887.2" rx="3" ry="1.6" transform="rotate(-28 606.9 887.2)"/>
<path class="l" d="M598.1 882.5 C597.6 883.8 595 887.7 595 890.3 C595 892.9 596.6 896 598.1 898.1 C599.7 900.2 603.3 902 604.4 902.8"/>
<path class="t" d="M623.1 882.5 C622.6 884.3 621.6 890.6 620 893.4 C618.4 896.3 616.4 898 613.8 899.7 C611.1 901.4 605.9 902.9 604.4 903.6"/>
<path class="t" d="M616.1 893.4 L617.7 896.6" style="stroke:#555"/>
<path class="t" d="M618 891.6 L619.5 894.7" style="stroke:#555"/>
<path class="t" d="M619.8 889.7 L621.4 892.8" style="stroke:#555"/>
<path class="t" d="M621.7 887.8 L623.3 890.9" style="stroke:#555"/>
<path class="l" d="M573.1 883.3 L593.4 880.2 L581.7 900.5Z"/>
<path class="t" d="M576.2 885.6 L588.8 883.8 L581.7 896.6Z"/>
<path class="l" d="M563.8 880.9 C564.3 883 564.8 889.3 566.9 893.4 C569 897.6 572.9 902.6 576.2 905.9 C579.6 909.3 584.3 912.4 587.2 913.8 C590.1 915.1 592.4 913.8 593.4 913.8" style="stroke-width:1.3"/>
<path class="l" d="M568.4 882.5 C569 884.3 569.7 890.1 571.6 893.4 C573.4 896.8 576.5 900.2 579.4 902.8 C582.2 905.4 586.1 908.3 588.8 909.1 C591.4 909.8 594 907.8 595 907.5"/>
<path class="t" d="M573.1 890.3 C573.6 891 576 893.2 576.2 894.2 C576.5 895.3 574.9 896.2 574.7 896.6"/>
<path class="t" d="M570 909.4 L572.3 912.2" style="stroke:#777;stroke-width:1.3"/>
<path class="t" d="M572.2 910.8 L574.5 913.4" style="stroke:#777;stroke-width:1.3"/>
<path class="t" d="M574.4 912.2 L576.7 914.7" style="stroke:#777;stroke-width:1.3"/>
<path class="t" d="M576.6 913.6 L578.9 915.9" style="stroke:#777;stroke-width:1.3"/>
<path class="t" d="M578.8 915 L581.1 917.2" style="stroke:#777;stroke-width:1.3"/>
<path class="t" d="M580.9 916.4 L583.3 918.4" style="stroke:#777;stroke-width:1.3"/>
<path class="t" d="M557.5 898.1 C558.3 900.2 559.8 907.5 562.2 910.6 C564.5 913.8 568.7 915.3 571.6 916.9 C574.4 918.4 578.1 919.5 579.4 920"/>
<path class="f" d="M533.3 873.1 C533.3 871.2 534.1 867.3 535.6 865.3 C537.2 863.3 541.9 859.8 545 858.3 C548.1 856.7 556.1 854.9 559.1 853.6 C562 852.2 564.4 849.4 566.9 848.1 C569.4 846.9 574.9 844.6 577.8 844.2 C580.7 843.8 586.2 844.1 588.8 845 C591.2 845.9 595.1 849.2 596.6 851.2 C598 853.3 599.7 858.3 599.7 860.6 C599.7 862.9 598.4 866.8 596.6 868.4 C594.7 870.1 589 872.3 585.6 873.1 C582.3 874 574.5 873.9 571.6 874.7 C568.6 875.5 566 878.3 563.8 879.4 C561.5 880.4 557.1 882.1 554.4 882.5 C551.7 882.9 545.9 882.9 543.4 882.5 C540.9 882.1 537 880.6 535.6 879.4 C534.3 878.1 533.3 875 533.3 873.1Z" style="stroke-width:1.5"/>
<ellipse class="l" cx="546.6" cy="870" rx="7.8" ry="5.8" transform="rotate(-30 546.6 870)" style="stroke-width:1.3"/>
<ellipse class="l" cx="546.2" cy="870.5" rx="5" ry="3.3" transform="rotate(-30 546.2 870.5)"/>
<ellipse class="t" cx="545.9" cy="870.9" rx="3" ry="1.6" transform="rotate(-30 545.9 870.9)"/>
<ellipse class="l" cx="584.1" cy="859.8" rx="8" ry="6" transform="rotate(-30 584.1 859.8)" style="stroke-width:1.3"/>
<ellipse class="l" cx="583.8" cy="860.3" rx="5.2" ry="3.5" transform="rotate(-30 583.8 860.3)"/>
<ellipse class="t" cx="583.4" cy="860.8" rx="3" ry="1.7" transform="rotate(-30 583.4 860.8)"/>
<path class="l" d="M535.6 880.2 C536.9 881.1 540.4 884.8 543.4 885.6 C546.4 886.4 551.5 885.4 553.6 884.8 C555.7 884.3 555.5 882.9 555.9 882.5"/>
<path class="t" d="M580.9 845 L580.2 848.9 L585.6 849.7 L586.4 845.8"/>
<path class="l" d="M596.6 851.2 C597.9 852.8 602.4 857.2 604.4 860.6 C606.3 864 607.8 869.2 608.3 871.6 C608.8 873.9 607.6 874.2 607.5 874.7" style="stroke-width:1.3"/>
<path class="t" d="M593.4 848.1 C594.7 849.4 599.2 852.8 601.2 855.9 C603.3 859.1 604.9 865.1 605.6 866.9"/>

<!-- 43_spiders.svg -->
<g transform="translate(643 862) rotate(0) scale(1.0)">
<path class="f" style="stroke-width:1.4" d="M-16 -19 L-6 -22 L-1 -7 L-11 -3Z"/>
<ellipse class="f" style="stroke-width:1.4" cx="-11" cy="-20.5" rx="5.2" ry="2.8" transform="rotate(-15 -11 -20.5)"/>
<path class="l" style="stroke:#444;stroke-width:1.5" d="M-15 -15 L-5 -18 M-14 -11.5 L-4 -14.5 M-13 -8 L-3 -11"/>
<path class="f" style="stroke-width:1.4" d="M-16 5 L-5 1 L0 13 L-11 19Z"/>
<ellipse class="f" style="stroke-width:1.5" cx="-12.5" cy="13" rx="5" ry="5.8"/>
<ellipse class="l" cx="-13" cy="13.5" rx="2.8" ry="3.4"/>
<path class="l" style="stroke:#444" d="M-8 3.5 L-3.5 13.5 M-5 2.5 L-1.5 11"/>
<path class="f" style="stroke-width:1.6" d="M-9 -8 Q0 -13 9 -8 Q13 0 9 9 Q0 13 -7 9 Q-12 0 -9 -8Z"/>
<path class="l" d="M-5 -6 Q2 -8 6 -2 Q7 4 2 6 Q-4 6 -5 0 M-1 -3 Q3 -2 2 2"/>
<path class="l" style="stroke:#444" d="M-9 -2 Q-4 -10 4 -10 M6 8 Q10 4 10 -2"/>
<path class="f" d="M6 -9 L10 -15 L16 -10 L11 -4Z"/>
<circle class="f" style="stroke-width:1.5" cx="15" cy="-15" r="4.6"/>
<path class="f" d="M5 8 L8 13 L14 10 L10 4Z"/>
<circle class="f" style="stroke-width:1.5" cx="11" cy="16" r="4.6"/>
</g>
<g transform="translate(520.5 897) rotate(-18) scale(0.86)">
<path class="f" style="stroke-width:1.4" d="M-16 -19 L-6 -22 L-1 -7 L-11 -3Z"/>
<ellipse class="f" style="stroke-width:1.4" cx="-11" cy="-20.5" rx="5.2" ry="2.8" transform="rotate(-15 -11 -20.5)"/>
<path class="l" style="stroke:#444;stroke-width:1.5" d="M-15 -15 L-5 -18 M-14 -11.5 L-4 -14.5 M-13 -8 L-3 -11"/>
<path class="f" style="stroke-width:1.4" d="M-16 5 L-5 1 L0 13 L-11 19Z"/>
<ellipse class="f" style="stroke-width:1.5" cx="-12.5" cy="13" rx="5" ry="5.8"/>
<ellipse class="l" cx="-13" cy="13.5" rx="2.8" ry="3.4"/>
<path class="l" style="stroke:#444" d="M-8 3.5 L-3.5 13.5 M-5 2.5 L-1.5 11"/>
<path class="f" style="stroke-width:1.6" d="M-9 -8 Q0 -13 9 -8 Q13 0 9 9 Q0 13 -7 9 Q-12 0 -9 -8Z"/>
<path class="l" d="M-5 -6 Q2 -8 6 -2 Q7 4 2 6 Q-4 6 -5 0 M-1 -3 Q3 -2 2 2"/>
<path class="l" style="stroke:#444" d="M-9 -2 Q-4 -10 4 -10 M6 8 Q10 4 10 -2"/>
<path class="f" d="M6 -9 L10 -15 L16 -10 L11 -4Z"/>
<circle class="f" style="stroke-width:1.5" cx="15" cy="-15" r="4.6"/>
<path class="f" d="M5 8 L8 13 L14 10 L10 4Z"/>
<circle class="f" style="stroke-width:1.5" cx="11" cy="16" r="4.6"/>
</g>

<!-- 44_yoke14.svg -->
<path class="l" d="M394.6 910.3 C394.8 909.4 394.8 906.1 395.9 904.8 C397.1 903.6 399.5 902.6 401.4 902.8 C403.3 902.9 406.1 904.1 407.6 905.5 C409 906.9 409.8 910 410.3 911" style="stroke-width:1.3"/>
<path class="l" d="M398 909.6 C398.3 909.1 399 907.3 400 906.9 C401.1 906.4 403 906.4 404.1 906.9 C405.3 907.3 406.4 909.1 406.9 909.6"/>
<path class="f" d="M416.4 910.3 L430.1 906.9 L439 908.9 L440.4 925.3 L435.6 930.1 L424.6 932.8 L417.8 932.2Z" style="stroke-width:1.2"/>
<path class="t" d="M418.5 911 L419.3 919.2 L418 920.5 L419.6 931.5" style="stroke:#333;stroke-width:1.2"/>
<path class="t" d="M421.5 910.6 L422.3 918.9 L421 920.3 L422.6 930.9" style="stroke:#333;stroke-width:1.2"/>
<path class="t" d="M424.5 910.1 L425.3 918.6 L424 920 L425.6 930.4" style="stroke:#333;stroke-width:1.2"/>
<path class="t" d="M427.5 909.7 L428.3 918.3 L427 919.7 L428.6 929.8" style="stroke:#333;stroke-width:1.2"/>
<path class="t" d="M430.5 909.3 L431.3 918.1 L430 919.4 L431.6 929.3" style="stroke:#333;stroke-width:1.2"/>
<path class="t" d="M433.5 908.9 L434.4 917.8 L433 919.2 L434.6 928.7" style="stroke:#333;stroke-width:1.2"/>
<path class="t" d="M436.5 908.5 L437.4 917.5 L436 918.9 L437.6 928.2" style="stroke:#333;stroke-width:1.2"/>
<path class="t" d="M417.1 914.4 L439.7 910.3"/>
<path class="t" d="M417.5 923.9 L439.7 919.8"/>
<path class="t" d="M417.8 928.7 L439.7 924.6"/>
<g transform="translate(400 927.9) rotate(-19)">
<path class="f" style="stroke-width:1.5" d="M0 -15 L17 -15 A6.5 15 0 0 1 17 15 L0 15 A7.5 15 0 0 1 0 -15Z"/>
<path class="l" d="M9 -15 A6.5 15 0 0 1 9 15"/>
<path class="t" style="stroke:#888;stroke-width:2;stroke-dasharray:2 1.2" d="M11.5 -14.5 A6.5 15 0 0 1 11.5 14.5"/>
<path class="t" style="stroke:#999;stroke-width:1.6;stroke-dasharray:1.5 1.5" d="M6 -14 A6.5 15 0 0 1 6 14"/>
<path class="l" d="M17 -15 A6.5 15 0 0 0 17 15"/>
<path class="t" style="stroke:#999;stroke-width:1.8;stroke-dasharray:2 1.5" d="M-4 8 Q2 14.5 12 14.2"/>
</g>
<path class="f" d="M446.5 887.7 L469.1 881.6 L472.5 892.5 L467 913 L461.6 914.4 L458.8 918.5 L461.6 937.6 L452 938.3 L434.2 918.5Z" style="stroke-width:1.5"/>
<path class="l" d="M449.3 893.9 L440.4 915.1 L463.6 910.3 L467 900.7" style="stroke-width:1.3"/>
<path d="M450.4 898 L443.1 913.7 L460.9 910Z" fill="#bdbdbd" stroke="#444" stroke-width="0.9"/>
<path class="t" d="M449.3 900.7 L450.6 902.3" style="stroke:#666"/>
<path class="t" d="M448.4 902.6 L452.3 903.6" style="stroke:#666"/>
<path class="t" d="M447.6 904.5 L453.9 904.8" style="stroke:#666"/>
<path class="t" d="M446.8 906.4 L455.5 906" style="stroke:#666"/>
<path class="t" d="M446 908.4 L457.2 907.3" style="stroke:#666"/>
<path class="t" d="M445.2 910.3 L458.8 908.5" style="stroke:#666"/>
<path class="t" d="M444.3 912.2 L460.5 909.7" style="stroke:#666"/>
<path class="f" d="M469.8 881.6 C471.8 879.4 476.5 879.3 479.3 879.5 C482.2 879.7 486.6 881 488.9 882.9 C491.3 884.9 494.2 889.6 495.1 892.5 C495.9 895.4 495.3 899.4 494.4 902.1 C493.5 904.7 491 908.6 488.9 910.3 C486.9 911.9 483.2 913 480.7 913 C478.2 913 474.6 911.7 472.5 910.3 C470.5 908.8 468.1 905.9 467 903.4 C466 901 465.3 897.2 465.7 893.9 C466.1 890.6 467.7 883.7 469.8 881.6Z" style="stroke-width:1.5"/>
<path class="l" d="M466.4 895.2 C467 894.3 468.3 890.9 470.5 889.8 C472.6 888.6 476.5 887.8 479.3 888.4 C482.2 889 485.6 891 487.5 893.2 C489.5 895.4 490.8 898.7 491 901.4 C491.1 904.1 488.7 908.2 488.2 909.6" style="stroke-width:1.2"/>
<ellipse class="f" cx="478.7" cy="899.6" rx="10.4" ry="8.2" transform="rotate(25 478.7 899.6)" style="stroke-width:1.4"/>
<ellipse class="l" cx="479.1" cy="900.2" rx="7.6" ry="5.6" transform="rotate(25 479.1 900.2)"/>
<path class="t" d="M472.5 899.3 C473.6 898.9 477.2 896.7 479.3 896.9 C481.5 897.1 484.5 900.1 485.5 900.7" style="stroke:#555;stroke-width:1.3"/>
<path class="l" d="M486.9 887 L487.5 890.5"/>
<path class="f" d="M453.4 921.2 C454.1 919.1 455.4 916.3 457.5 915.1 C459.5 913.8 464.2 913 467 913 C469.9 913 474.3 913.6 476.6 915.1 C478.9 916.5 481.6 920.1 482.3 922.6 C483.1 925 482.5 929.2 481.4 931.5 C480.3 933.7 477.6 936.5 475.2 937.6 C472.9 938.8 468.3 939.2 465.7 939 C463 938.8 459.4 937.7 457.5 936.3 C455.5 934.8 453.3 931.7 452.7 929.4 C452.1 927.2 452.6 923.4 453.4 921.2Z" style="stroke-width:1.5"/>
<path class="t" d="M467 913 C467.9 913.9 471.4 918.3 472.5 918.5 C473.6 918.7 473.6 915.1 473.9 914.4"/>
<ellipse class="f" cx="467" cy="927.1" rx="10.4" ry="7.6" transform="rotate(20 467 927.1)" style="stroke-width:1.4"/>
<ellipse class="l" cx="467.4" cy="927.6" rx="7.8" ry="5.2" transform="rotate(20 467.4 927.6)"/>
<path class="t" d="M460.2 926.7 C461.3 926.3 464.8 924.1 467 924.2 C469.3 924.3 472.7 926.8 473.9 927.4" style="stroke:#555;stroke-width:1.3"/>
<path class="l" d="M474.6 914.4 L475.2 918.5"/>

<!-- 45_rings.svg -->
<path class="l" d="M445.2 831 C444.4 831.3 441.6 833.5 440.4 833 C439.1 832.6 437.9 830.3 437.6 828.2 C437.4 826.2 437.8 823 439 820.7 C440.3 818.4 442.9 815.9 445.2 814.6 C447.4 813.3 450.7 812.5 452.7 812.9 C454.6 813.4 456.2 815.4 456.8 817.3 C457.3 819.2 456.7 822.4 456.1 824.1 C455.5 825.9 453.8 827 453.4 827.6" style="stroke-width:1.4"/>
<path class="l" d="M445.2 831 C445.3 830.6 446.6 829.5 446.3 828.9 C445.9 828.4 443.6 828.6 443.1 827.6 C442.6 826.5 442.4 824.3 443.1 822.8 C443.8 821.3 445.7 819.5 447.2 818.7 C448.7 817.9 451 817.5 452 818 C453 818.4 453.2 820.2 453.1 821.4 C453 822.7 451.3 824.5 451.3 825.5 C451.4 826.5 453 827.2 453.4 827.6" style="stroke-width:1.4"/>
<g transform="translate(464.3 841.2) rotate(-32)">
<path class="f" style="stroke-width:1.3" d="M-9 -6 L-9 4 A9 5.5 0 0 0 9 4 L9 -6 A9 5.5 0 0 0 -9 -6Z"/>
<path class="l" d="M-9 -6 A9 5.5 0 0 0 9 -6"/>
<path class="t" style="stroke:#777" d="M4 -1 L4 8 M6.5 -2 L6.5 7"/>
</g>
<g transform="translate(477.3 834) rotate(48)"><rect class="f" x="0" y="-1.6" width="11" height="3.2" rx="1.4"/></g>
<path class="t" d="M463.6 817.3 L464.3 830.3"/>
<ellipse class="f" cx="480" cy="857.6" rx="11.5" ry="9.5" transform="rotate(-30 480 857.6)" style="stroke-width:1.5"/>
<ellipse class="l" cx="479.5" cy="858.1" rx="6.2" ry="4.6" transform="rotate(-30 479.5 858.1)" style="stroke-width:1.3"/>
<ellipse class="t" cx="479.2" cy="858.4" rx="4.2" ry="2.8" transform="rotate(-30 479.2 858.4)"/>
<path class="t" d="M470.5 861.1 C471 862 472.2 865.3 473.9 866.5 C475.6 867.8 478.5 868.8 480.7 868.6 C482.9 868.3 485.8 865.7 486.9 865.2"/>
<ellipse class="f" cx="495.5" cy="871.7" rx="11.5" ry="10" transform="rotate(-30 495.5 871.7)" style="stroke-width:1.6"/>
<ellipse class="l" cx="495.5" cy="871.7" rx="9" ry="7.6" transform="rotate(-30 495.5 871.7)" style="fill:#c4c4c4"/>
<ellipse class="f" cx="495.2" cy="872" rx="5.6" ry="4.4" transform="rotate(-30 495.2 872)"/>
<ellipse class="l" cx="495" cy="872.2" rx="3.2" ry="2.3" transform="rotate(-30 495 872.2)" style="fill:#bbb"/>

<!-- 50_bracket43.svg -->
<path class="l" d="M160 751.2 L166.2 753.8 L170 762.5 L176.2 790 L180 812.5 L177.5 826.2"/>
<path class="l" d="M177.5 826.2 C177.7 825.4 180.1 814.7 180 812.5 C179.9 810.3 176.8 793 176.2 790 C175.7 787 170.6 764.6 170 762.5 C169.4 760.4 167.6 755.2 167 754.5 C166.4 753.8 160.8 751.3 160 751.2 C159.2 751.2 157.1 750.3 153.8 753 C150.4 755.7 110.8 791 105 796.2 C99.2 801.5 60.8 836.9 57.5 840 C54.2 843.1 50.6 846.5 50 847.5 C49.4 848.5 47.3 855.5 47.5 857.5 C47.7 859.5 53.1 877.1 53.8 880 C54.4 882.9 55.8 902.2 58.8 905 C61.7 907.8 99.9 925 102.5 926.2" style="stroke-width:1.2"/>
<path class="t" d="M161.2 754.5 C160.9 754.6 158.3 753.8 155 756.5 C151.7 759.2 112 794.3 106.2 799.5 C100.5 804.7 62.7 839.5 59.5 842.5 C56.3 845.5 53 848.1 52.5 849 C52 849.9 50.6 857 50.5 857.5"/>
<g transform="translate(158 775) rotate(14)"><rect class="f" x="0" y="-3.2" width="18" height="6.4" rx="2.5"/><path class="t" style="stroke:#444;stroke-width:1.1" d="M2.5 -3.2 L1.5 3.2"/><path class="t" style="stroke:#444;stroke-width:1.1" d="M4.7 -3.2 L3.7 3.2"/><path class="t" style="stroke:#444;stroke-width:1.1" d="M6.9 -3.2 L5.9 3.2"/><path class="t" style="stroke:#444;stroke-width:1.1" d="M9.1 -3.2 L8.1 3.2"/><path class="t" style="stroke:#444;stroke-width:1.1" d="M11.3 -3.2 L10.3 3.2"/><path class="t" style="stroke:#444;stroke-width:1.1" d="M13.5 -3.2 L12.5 3.2"/><ellipse class="f" cx="17" cy="0" rx="2" ry="3.2"/></g>
<g transform="translate(163.8 803) rotate(12)"><rect class="f" x="0" y="-3.2" width="18" height="6.4" rx="2.5"/><path class="t" style="stroke:#444;stroke-width:1.1" d="M2.5 -3.2 L1.5 3.2"/><path class="t" style="stroke:#444;stroke-width:1.1" d="M4.7 -3.2 L3.7 3.2"/><path class="t" style="stroke:#444;stroke-width:1.1" d="M6.9 -3.2 L5.9 3.2"/><path class="t" style="stroke:#444;stroke-width:1.1" d="M9.1 -3.2 L8.1 3.2"/><path class="t" style="stroke:#444;stroke-width:1.1" d="M11.3 -3.2 L10.3 3.2"/><path class="t" style="stroke:#444;stroke-width:1.1" d="M13.5 -3.2 L12.5 3.2"/><ellipse class="f" cx="17" cy="0" rx="2" ry="3.2"/></g>
<g transform="translate(66.8 853.8) rotate(12)"><rect class="f" x="0" y="-3.2" width="18" height="6.4" rx="2.5"/><path class="t" style="stroke:#444;stroke-width:1.1" d="M2.5 -3.2 L1.5 3.2"/><path class="t" style="stroke:#444;stroke-width:1.1" d="M4.7 -3.2 L3.7 3.2"/><path class="t" style="stroke:#444;stroke-width:1.1" d="M6.9 -3.2 L5.9 3.2"/><path class="t" style="stroke:#444;stroke-width:1.1" d="M9.1 -3.2 L8.1 3.2"/><path class="t" style="stroke:#444;stroke-width:1.1" d="M11.3 -3.2 L10.3 3.2"/><path class="t" style="stroke:#444;stroke-width:1.1" d="M13.5 -3.2 L12.5 3.2"/><ellipse class="f" cx="17" cy="0" rx="2" ry="3.2"/></g>
<g transform="translate(70.8 883) rotate(12)"><rect class="f" x="0" y="-3.2" width="18" height="6.4" rx="2.5"/><path class="t" style="stroke:#444;stroke-width:1.1" d="M2.5 -3.2 L1.5 3.2"/><path class="t" style="stroke:#444;stroke-width:1.1" d="M4.7 -3.2 L3.7 3.2"/><path class="t" style="stroke:#444;stroke-width:1.1" d="M6.9 -3.2 L5.9 3.2"/><path class="t" style="stroke:#444;stroke-width:1.1" d="M9.1 -3.2 L8.1 3.2"/><path class="t" style="stroke:#444;stroke-width:1.1" d="M11.3 -3.2 L10.3 3.2"/><path class="t" style="stroke:#444;stroke-width:1.1" d="M13.5 -3.2 L12.5 3.2"/><ellipse class="f" cx="17" cy="0" rx="2" ry="3.2"/></g>
<path class="l" d="M200 853.8 L251.2 863 L251.2 873.8 L171.2 945.5 L170 936.2 L251.2 863" style="stroke-width:1.2"/>
<path class="l" d="M170 936.2 L152.5 931.2"/>
<path class="l" d="M171.2 945.5 L161.2 943"/>
<path class="f" d="M166.2 823.8 L170 870 L217.5 882.5 L222.5 876.2 L173.8 822.5 L166.2 823.8" style="stroke-width:1.2"/>
<path class="l" d="M166.2 823.8 L217.5 882.5"/>
<path class="t" d="M170 870 L216.2 871.2" style="stroke:none"/>
<path class="l" d="M202.5 855 L200 853.8"/>
<path class="f" d="M101.2 886.2 L105 936.2 L157.5 949.5 L161.2 943.8 L107.5 886.2 L101.2 886.2" style="stroke-width:1.2"/>
<path class="l" d="M101.2 886.2 L157.5 949.5"/>
<path class="l" d="M131.2 870 L147.5 852.5 L153.8 853.8 L157.5 877.5 L135 892.5 L131.2 870"/>
<path class="t" d="M147.5 852.5 L151.2 875 L135 890"/>
<path class="l" d="M157.5 877.5 L170 870"/>
<path class="l" d="M135 892.5 L126.2 906.2"/>
<path class="l" d="M58.8 905 L102.5 926.2"/>
<path class="t" d="M97.5 925 L105 936.2" style="stroke:none"/>
<ellipse class="t" cx="226.2" cy="867.5" rx="4.2" ry="2.6" style="stroke:#444"/>
<ellipse class="t" cx="142.5" cy="917.5" rx="4.6" ry="3.4" style="stroke:#444"/>
<ellipse class="t" cx="161.2" cy="925" rx="4.2" ry="2.6" style="stroke:#444"/>

<!-- 52_bracket13.svg -->
<path class="f" d="M229.4 974 C229.2 973.1 227.7 966.5 227.2 963.9 C226.8 961.2 223.9 944.7 223.6 942.3 C223.4 939.9 223.9 936.2 224.4 935.1 C224.8 934 219.9 937.4 228.7 929.4 C237.5 921.3 321.1 846.4 330 838.7 C338.9 831 334.9 837 336 837 C337.1 837 342.1 837.4 343.2 839 C344.2 840.6 348.1 852.8 348.9 856 C349.7 859.2 352.2 875.8 352.5 877.6" style="stroke-width:1.3"/>
<path class="t" d="M233.7 972.5 L229.4 939.4 L233.7 931.9 L331.5 845" style="stroke:#333"/>
<path class="t" d="M336.7 848.8 L338.1 861.7" style="stroke:#999;stroke-width:1.2"/>
<path class="t" d="M338.4 851.1 L339.7 863.5" style="stroke:#999;stroke-width:1.2"/>
<path class="t" d="M340.1 853.4 L341.3 865.2" style="stroke:#999;stroke-width:1.2"/>
<path class="t" d="M341.9 855.7 L342.9 866.9" style="stroke:#999;stroke-width:1.2"/>
<path class="t" d="M343.6 858 L344.5 868.6" style="stroke:#999;stroke-width:1.2"/>
<path class="t" d="M345.3 860.3 L346 870.4" style="stroke:#999;stroke-width:1.2"/>
<path class="t" d="M347.1 862.6 L347.6 872.1" style="stroke:#999;stroke-width:1.2"/>
<path class="t" d="M348.8 864.9 L349.2 873.8" style="stroke:#999;stroke-width:1.2"/>
<path class="t" d="M350.5 867.2 L350.8 875.5" style="stroke:#999;stroke-width:1.2"/>
<path class="t" d="M341.7 848.8 C342.4 850.2 345 854.3 346 857.4 C347.1 860.5 347.6 864.4 348.2 867.5 C348.8 870.6 349.4 874.7 349.6 876.1" style="stroke:#aaa;stroke-width:3"/>
<ellipse class="l" cx="333.8" cy="858.8" rx="1.8" ry="2.4"/>
<ellipse class="l" cx="250.2" cy="966.8" rx="1.8" ry="3.2" transform="rotate(15 250.2 966.8)"/>
<path class="l" d="M312.8 876 L377.7 881.9 L403.6 896.3 L415.1 906.3" style="stroke-width:1.3"/>
<path class="t" d="M378.4 886.5 L409.4 904.9" style="stroke:#777;stroke-dasharray:2 1.5"/>
<path class="l" d="M312.8 876 L267.5 915.3 L324.4 919.3" style="stroke-width:1.2"/>
<path class="l" d="M267.5 920.7 L307 930.8"/>
<path class="l" d="M267.5 915.3 L267.5 920.7"/>
<path class="t" d="M357.9 886.2 L331.3 910.4 L326.2 920.7" style="stroke:#444"/>
<path class="t" d="M363.5 886.6 L385.8 934.6" style="stroke:#444;stroke-dasharray:7 2 1.5 2"/>
<path class="t" d="M378.4 887.1 L398.9 898.3" style="stroke:#777;stroke-dasharray:2 1.5"/>
<path class="t" d="M334.6 914.1 L343 921.6" style="stroke:#8a8a8a"/>
<path class="t" d="M337.2 913.2 L345.4 920.3" style="stroke:#8a8a8a"/>
<path class="t" d="M339.8 912.3 L347.8 919" style="stroke:#8a8a8a"/>
<path class="t" d="M342.4 911.3 L350.2 917.7" style="stroke:#8a8a8a"/>
<path class="t" d="M345 910.4 L352.7 916.4" style="stroke:#8a8a8a"/>
<path class="t" d="M347.6 909.5 L355.1 915.1" style="stroke:#8a8a8a"/>
<path class="t" d="M350.2 908.6 L357.5 913.8" style="stroke:#8a8a8a"/>
<path class="t" d="M352.8 907.6 L359.9 912.5" style="stroke:#8a8a8a"/>
<ellipse class="l" cx="366.3" cy="912.3" rx="1.9" ry="2.4"/>
<ellipse class="l" cx="383.5" cy="942.6" rx="1.9" ry="2.4"/>
<ellipse class="f" cx="367.7" cy="933.2" rx="10.5" ry="15.5" transform="rotate(-28 367.7 933.2)" style="stroke-width:1.4"/>
<ellipse class="l" cx="367.2" cy="932.8" rx="8" ry="12.5" transform="rotate(-28 367.2 932.8)" style="stroke-width:1.3"/>
<ellipse class="l" cx="365.8" cy="930.9" rx="5.5" ry="8.5" transform="rotate(-28 365.8 930.9)" style="fill:#8f8f8f;stroke-width:1.2"/>
<path class="l" d="M356 923.5 C356.6 922.8 357.9 920.5 359.7 919.7 C361.6 919 364.7 917.9 367.2 918.8 C369.7 919.7 372.7 922.7 374.6 925.3 C376.6 928 378.1 933.1 378.8 934.6"/>
<path class="l" d="M385.8 934.6 L392.4 938.4 L390.5 943 L374.6 956.1 L370 961.7" style="stroke-width:1.4"/>
<path class="l" d="M332.7 917.4 L354.1 929.1 L367.2 938.4 L374.6 948.6 L375.6 954.2 L370.9 961.2 L358.8 965.9 L345.8 970.1" style="stroke-width:1.5"/>
<path d="M332.7 917.9 L354.1 929.5 L366.7 938.8 L373.7 948.6 L374.6 954.2 L370.5 960.7 L345.8 969.6 L333.6 945.8 L326.6 921.1Z" fill="#fafbfa" stroke="none"/>
<path class="l" d="M332.7 917.4 L354.1 929.1 L367.2 938.4 L374.6 948.6 L375.6 954.2 L370.9 961.2 L358.8 965.9 L345.8 970.1" style="stroke-width:1.5"/>
<path class="l" d="M315 918.3 L326.2 920.7 L343 930.9 L359.7 940.2"/>
<ellipse class="f" cx="361.1" cy="951.4" rx="10" ry="9.6" style="stroke-width:1.6"/>
<ellipse class="l" cx="360.3" cy="952.2" rx="6.4" ry="7" transform="rotate(-20 360.3 952.2)" style="stroke-width:1.4"/>
<ellipse class="l" cx="359.9" cy="952.6" rx="3" ry="4" transform="rotate(-20 359.9 952.6)" style="fill:#ddd"/>
<path class="t" d="M352.3 945.8 C353.4 945.2 356.3 942.3 358.8 942.1 C361.3 941.9 365.2 943.3 367.2 944.9 C369.2 946.5 370.3 950.3 370.9 951.4"/>
<path class="l" d="M341.6 940.2 L351.3 961.7" style="stroke-dasharray:9 2.5"/>
<path class="t" d="M344.4 952.4 L349.9 962.6" style="stroke:#888"/>
<path class="l" d="M325.3 934.6 L332.2 958.9 L342 979.4 L347.6 978.4" style="stroke-width:1.5"/>
<path class="l" d="M345.8 970.1 L347.6 978.4 L358.8 971 L357.4 967.3" style="stroke-width:1.4"/>
<path class="l" d="M345.8 970.1 L354.1 966.8 L357.4 967.3"/>
<path class="l" d="M358.8 967.3 C359.6 967.7 362.1 969.1 363.5 970.1 C364.9 971.1 365.6 972.7 367.2 973.3 C368.7 974 371.4 974.1 372.8 974 C374.2 973.9 375.1 973 375.6 972.9" style="stroke-width:1.6"/>
<path class="l" d="M359.7 965.9 C360.5 966.3 362.8 968 364.4 968.2 C365.9 968.4 368.3 967.4 369.1 967.3"/>

<!-- 53_mech7.svg -->
<path class="l" d="M255.3 978.3 L272.6 965.3" style="stroke-dasharray:12 3 3 3"/>
<g transform="translate(278.3 962.6) rotate(-19)">
<path class="f" style="stroke-width:1.4" d="M2 -7 L10 -8 L16 -14 L25 -15.5 L34 -15.5 L40 -16 L50 -10 L56 -6 L56 10 L50 13 L40 14 L30 11 L22 8 L12 6.5 L2 7Z"/>
<path class="f" style="stroke-width:1.5;fill:#ddd" d="M20 8 L22 17 L27 23 L34 22 L38 15 L40 13Z"/>
<path class="l" style="stroke-width:1.6" d="M24 12 Q28 18 33 17 M25 15 L31 12 M29 20 L34 16"/>
<ellipse cx="50" cy="1.5" rx="5" ry="11.5" fill="#fafbfa" stroke="#222" stroke-width="1.5"/>
<ellipse cx="47" cy="1.5" rx="4.5" ry="10.5" fill="#e6e6e6" stroke="#222" stroke-width="1.2"/>
<ellipse cx="40" cy="-1" rx="5.5" ry="15" fill="#fafbfa" stroke="#222" stroke-width="1.8"/>
<ellipse cx="36.5" cy="-1" rx="5" ry="14" fill="#e4e4e4" stroke="#222" stroke-width="1.6"/>
<path class="l" style="stroke-width:2;stroke:#222" d="M33 -12 L36 -4 M32 -2 L36 6 M33 8 L35 12 M38 -13 L41 -6 M39 2 L42 9"/>
<ellipse cx="27" cy="-3.5" rx="4.5" ry="11.8" fill="#fafbfa" stroke="#222" stroke-width="1.7"/>
<ellipse cx="24" cy="-3.5" rx="4" ry="11" fill="#e8e8e8" stroke="#222" stroke-width="1.5"/>
<path class="l" style="stroke-width:1.8;stroke:#222" d="M22 -12 L25 -6 M21 -2 L24 4 M26 -10 L28 -3"/>
<ellipse cx="17" cy="-4" rx="4" ry="10.2" fill="#fafbfa" stroke="#222" stroke-width="1.6"/>
<ellipse cx="14.5" cy="-4" rx="3.5" ry="9.4" fill="#eeeeee" stroke="#222" stroke-width="1.3"/>
<path class="f" style="stroke-width:1.2" d="M0 -7 L11 -8 L11 6 L0 7Z"/>
<path class="t" style="stroke:#666" d="M8 -8 Q11 -1 8 6"/>
<ellipse cx="0" cy="0" rx="5.2" ry="7" fill="#fafbfa" stroke="#222" stroke-width="1.5"/>
<path class="t" d="M4.5 -4 Q6.5 0 4.5 4"/>
</g>
<path class="l" d="M274.7 957.4 L314.3 935.1"/>
<path class="l" d="M315 970.8 C316.3 971.3 320.2 973.3 322.8 973.9 C325.4 974.6 328.3 975.2 330.6 974.7 C333 974.2 335.8 971.4 336.9 970.8" style="stroke-width:1.4"/>
<path class="l" d="M319.7 974.7 C321 974.9 324.9 976.5 327.5 976.2 C330.1 976 334 973.6 335.3 973.1"/>
<path class="l" d="M327.5 952.8 L332.2 959.1 L337.7 971.6 L342.3 979.4 L346.2 980.2" style="stroke-width:1.4"/>
<path class="l" d="M245.9 935.1 C245.5 935.5 243.4 936.1 243.1 937.3 C242.7 938.5 243.3 941.2 243.8 942.3 C244.3 943.4 245.6 943.5 245.9 943.7"/>
<ellipse class="l" cx="246.4" cy="939.1" rx="2" ry="3.4"/>
<path class="f" d="M245.9 937.3 L251 935.1 L251.7 943.7 L246.7 942.3Z"/>
<ellipse class="f" cx="252.7" cy="939.1" rx="4.4" ry="8.4" transform="rotate(-8 252.7 939.1)" style="stroke-width:1.5"/>
<ellipse class="l" cx="251" cy="939.4" rx="3.6" ry="7.6" transform="rotate(-8 251 939.4)" style="stroke-width:1.3"/>
<path class="f" d="M254.6 934.4 L263.2 935.1 L263.9 948.8 L256 947.3Z" style="stroke:none"/>
<path class="l" d="M254.6 934.4 L263.2 934.4" style="stroke-width:1.3"/>
<path class="l" d="M256 947.8 L263.9 949.1" style="stroke-width:1.3"/>
<ellipse class="l" cx="256.7" cy="940.9" rx="3.6" ry="6.8" transform="rotate(-8 256.7 940.9)" style="stroke-width:1.3"/>
<ellipse class="f" cx="263.6" cy="941.7" rx="4.6" ry="7.4" transform="rotate(-8 263.6 941.7)" style="stroke-width:1.5"/>
<ellipse class="l" cx="263.9" cy="942.3" rx="1.8" ry="2.6" transform="rotate(-8 263.9 942.3)"/>
<path class="l" d="M268.2 929.4 L273.3 946.6" style="stroke-dasharray:5 4"/>

<!-- 55_lever.svg -->
<g transform="translate(239.5 984) rotate(12.9)">
<path class="t" style="stroke:#555" d="M2 -5.2 L87.2 -5.2 M2 5.2 L87.2 5.2"/>
<ellipse class="l" style="stroke-width:1.5;stroke:#333" cx="2.5" cy="0" rx="2.1" ry="5.6" transform="rotate(-10 2.5 0)"/>
<ellipse class="l" style="stroke-width:1.5;stroke:#333" cx="7.4" cy="0" rx="2.1" ry="5.6" transform="rotate(-10 7.4 0)"/>
<ellipse class="l" style="stroke-width:1.5;stroke:#333" cx="12.4" cy="0" rx="2.1" ry="5.6" transform="rotate(-10 12.4 0)"/>
<ellipse class="l" style="stroke-width:1.5;stroke:#333" cx="17.4" cy="0" rx="2.1" ry="5.6" transform="rotate(-10 17.4 0)"/>
<ellipse class="l" style="stroke-width:1.5;stroke:#333" cx="22.3" cy="0" rx="2.1" ry="5.6" transform="rotate(-10 22.3 0)"/>
<ellipse class="l" style="stroke-width:1.5;stroke:#333" cx="27.3" cy="0" rx="2.1" ry="5.6" transform="rotate(-10 27.3 0)"/>
<ellipse class="l" style="stroke-width:1.5;stroke:#333" cx="32.2" cy="0" rx="2.1" ry="5.6" transform="rotate(-10 32.2 0)"/>
<ellipse class="l" style="stroke-width:1.5;stroke:#333" cx="37.2" cy="0" rx="2.1" ry="5.6" transform="rotate(-10 37.2 0)"/>
<ellipse class="l" style="stroke-width:1.5;stroke:#333" cx="42.1" cy="0" rx="2.1" ry="5.6" transform="rotate(-10 42.1 0)"/>
<ellipse class="l" style="stroke-width:1.5;stroke:#333" cx="47.1" cy="0" rx="2.1" ry="5.6" transform="rotate(-10 47.1 0)"/>
<ellipse class="l" style="stroke-width:1.5;stroke:#333" cx="52.1" cy="0" rx="2.1" ry="5.6" transform="rotate(-10 52.1 0)"/>
<ellipse class="l" style="stroke-width:1.5;stroke:#333" cx="57" cy="0" rx="2.1" ry="5.6" transform="rotate(-10 57 0)"/>
<ellipse class="l" style="stroke-width:1.5;stroke:#333" cx="62" cy="0" rx="2.1" ry="5.6" transform="rotate(-10 62 0)"/>
<ellipse class="l" style="stroke-width:1.5;stroke:#333" cx="66.9" cy="0" rx="2.1" ry="5.6" transform="rotate(-10 66.9 0)"/>
<ellipse class="l" style="stroke-width:1.5;stroke:#333" cx="71.9" cy="0" rx="2.1" ry="5.6" transform="rotate(-10 71.9 0)"/>
<ellipse class="l" style="stroke-width:1.5;stroke:#333" cx="76.9" cy="0" rx="2.1" ry="5.6" transform="rotate(-10 76.9 0)"/>
<ellipse class="l" style="stroke-width:1.5;stroke:#333" cx="81.8" cy="0" rx="2.1" ry="5.6" transform="rotate(-10 81.8 0)"/>
<ellipse class="l" style="stroke-width:1.5;stroke:#333" cx="86.8" cy="0" rx="2.1" ry="5.6" transform="rotate(-10 86.8 0)"/>
</g>
<path class="l" d="M324.6 1005.4 C325.6 1005.6 328.7 1006.9 330.5 1006.3 C332.2 1005.6 333.4 1002.2 335.2 1001.6 C336.9 1000.9 340.1 1001.4 341 1002.5 C341.9 1003.6 341.4 1007 340.4 1008.4 C339.5 1009.7 336 1010.3 335.2 1010.7" style="stroke-width:1.5"/>
<path class="l" d="M245.5 982.6 L232 982.8 L237.9 979.1" style="stroke-width:1.5"/>
<path class="l" d="M232 982.8 L239.1 985.2"/>
<path class="f" d="M199.2 990.5 L210.2 981.7 L227.8 972.5 L230.4 973.8 L225.1 981.7 L219 994 L207.6 1005.9Z" style="stroke-width:1.3"/>
<path class="l" d="M210.2 981.7 L219.9 982.6 L225.1 981.7"/>
<path d="M212.4 995.8 L218.1 985.7 L220.3 986.5 L215.5 997.5Z" fill="#9a9a9a" stroke="#333" stroke-width="0.8"/>
<path class="l" d="M212 1000.1 L217.2 993.1" style="stroke-width:1.6"/>
<path class="l" d="M225.1 973.8 L229.5 972.5 L231.3 974.7 L227.8 976.4Z" style="fill:#aaa;stroke-width:0.9"/>
<path class="t" d="M227.8 965 L228.7 970.3" style="stroke:#666"/>
<path class="t" d="M232.2 965 L234.8 975.5" style="stroke:#888;stroke-dasharray:3 2"/>
<path class="f" d="M250.6 998.4 L265.6 1026.5 L269.1 1031.8 L270 1037.9 L265.6 1042.8 L259.4 1044.1 L254.1 1041.4 L251.5 1035.3 L253.3 1030 L241.8 1010.7 L242.7 1000.1Z" style="stroke-width:1.5"/>
<path class="l" d="M246.2 1001.9 L259.4 1027.8"/>
<path class="t" d="M248.4 1000.1 L262.9 1026.5" style="stroke:#555"/>
<path class="t" d="M244 1006.3 L255.5 1028.3" style="stroke:#555"/>
<path class="l" d="M242.7 994 L246.2 991.4 L251.5 994 L250.6 998.4"/>
<path class="l" d="M244.5 1001.9 L248 1006.3 L246.2 1008.9" style="stroke-width:1.6"/>
<path class="f" d="M225.1 985.2 C226.7 985.6 230.3 989 232.2 990.5 C234.1 992 237.8 994.5 239.2 996.6 C240.6 998.7 242.7 1004.1 242.7 1006.3 C242.7 1008.5 241 1012.7 239.2 1013.3 C237.5 1013.9 231.7 1012.1 229.5 1010.7 C227.4 1009.3 224.7 1004.9 223.4 1002.8 C222.1 1000.7 220.2 996.9 219.9 994.9 C219.5 992.9 220.1 989.1 220.8 987.8 C221.5 986.6 223.6 984.9 225.1 985.2Z" style="stroke-width:1.5"/>
<ellipse class="l" cx="232.9" cy="1004.5" rx="5.4" ry="7.6" transform="rotate(-38 232.9 1004.5)" style="stroke-width:1.5"/>
<path class="t" d="M227.8 1000.1 C228.4 999.8 229.8 998 231.3 998 C232.8 998 235.7 999.8 236.6 1000.1" style="stroke:#777;stroke-width:1.6"/>
<path class="l" d="M225.1 985.2 L227.8 976.4 L230 974.7 L231.3 978.2 L228.7 982.6 L232.2 990.5" style="stroke-width:1.3"/>
<ellipse class="f" cx="260.7" cy="1035.7" rx="9.6" ry="8.8" transform="rotate(-30 260.7 1035.7)" style="stroke-width:1.6"/>
<ellipse class="l" cx="259" cy="1037.1" rx="3.4" ry="3.2" style="stroke-width:1.4"/>
<ellipse class="t" cx="259" cy="1037.1" rx="1.3" ry="1.2"/>
<path class="l" d="M216.4 1011.6 C215.6 1011.2 213.4 1009.4 212 1009.4 C210.5 1009.3 208.5 1009.9 207.6 1011.1 C206.6 1012.4 206 1014.7 206.3 1016.8 C206.5 1019 207.4 1021.8 208.9 1023.9 C210.4 1026 213.4 1028.5 215.5 1029.6 C217.6 1030.7 220 1031.1 221.6 1030.5 C223.2 1029.8 224.8 1027.6 225.1 1025.6 C225.5 1023.7 224.5 1020.1 223.8 1018.6 C223.2 1017.1 221.6 1016.8 221.2 1016.4" style="stroke-width:1.6"/>
<path class="l" d="M216.4 1011.6 C216.5 1012 217.7 1013.8 217.2 1014.2 C216.8 1014.6 214.7 1013.5 213.7 1013.8 C212.8 1014.1 211.7 1014.9 211.5 1016 C211.3 1017.1 211.6 1018.9 212.4 1020.4 C213.2 1021.8 215 1023.9 216.4 1024.8 C217.7 1025.6 219.5 1026.1 220.3 1025.6 C221.1 1025.2 221.3 1023.3 221.2 1022.1 C221.1 1020.9 219.9 1019.6 219.9 1018.6 C219.9 1017.7 221 1016.8 221.2 1016.4" style="stroke-width:1.5"/>
<path class="l" d="M237.9 1019.9 L240.5 1026.5 L242.7 1035.3" style="stroke-width:1.5"/>
<path class="l" d="M240.5 1026.5 L244 1033.1 L241.8 1032.7"/>
<path class="t" d="M235.7 1021.2 L237.9 1019.9 L240.1 1020.8" style="stroke:#333"/>
<path class="l" d="M250.2 1041.6 C249.3 1042.4 245.3 1046.3 243.9 1047.5 C242.6 1048.7 240.9 1049.8 240 1050.6 C239.1 1051.5 237.2 1053 236.9 1053.8 C236.6 1054.5 236.8 1056 237.7 1056.6 C238.5 1057.1 242.4 1057.5 243.1 1057.7 L350.9 1070.3" style="stroke-width:1.4"/>
<path class="l" d="M252.5 1044.4 C251.9 1045 248.9 1047.8 247.8 1048.8 C246.7 1049.7 244.6 1050.8 244.4 1051.4 C244.2 1052 246 1053.2 246.2 1053.4 L350.9 1066.6" style="stroke-width:1.4"/>
<path class="l" d="M250.2 1041.6 C250.5 1041.6 251.8 1041.1 252.2 1041.6 C252.6 1042 252.4 1043.9 252.5 1044.4"/>
<ellipse class="l" cx="246.2" cy="1050.6" rx="1.5" ry="1.5"/>
<path class="f" d="M330 1066.5 L360 1071.5 L359.5 1075.5 L329.5 1071Z" style="stroke-width:1.3"/>
<path class="t" d="M342.5 1068.5 L342 1073"/>
<path class="t" d="M331.2 1068.8 L358.8 1073.5" style="stroke:#777"/>
<path class="f" d="M373.8 1066.2 C375.1 1064.3 381.1 1063.7 383.8 1063.2 C386.4 1062.8 391.6 1062.7 393.8 1063.2 C395.9 1063.8 399 1066.1 400 1067.5 C401 1068.9 401.6 1072.2 401.2 1073.8 C400.9 1075.3 399.2 1078.5 397.5 1079.5 C395.8 1080.5 391.1 1081.2 388.8 1081.2 C386.4 1081.2 382 1080 380 1079.5 C378 1079 374.6 1079.3 373.8 1077.5 C372.9 1075.7 372.4 1068.2 373.8 1066.2Z" style="stroke-width:1.4"/>
<path class="t" d="M383.8 1078.8 C385 1078.9 388.9 1079.9 391.2 1079.5 C393.6 1079.1 396.9 1076.8 398 1076.2" style="stroke:#999;stroke-width:2"/>
<ellipse class="f" cx="370" cy="1072" rx="3.6" ry="7" transform="rotate(-8 370 1072)" style="stroke-width:1.5"/>
<ellipse class="f" cx="372.5" cy="1072" rx="3.6" ry="6.6" transform="rotate(-8 372.5 1072)" style="stroke-width:1.3"/>
<path class="l" d="M375 1066.5 C375.3 1067.4 376.8 1070.2 376.8 1072 C376.8 1073.8 375.3 1076.6 375 1077.5"/>

<!-- 90_labels.svg -->
<g class="ld">
<path d="M602.5 41 L637 53"/>
<path d="M588 85 L641 104"/>
<path d="M567 154 L618 147"/>
<path d="M557 191 L620 166"/>
<path d="M525 290 L563 260"/>
<path d="M510 340 L567 354"/>
<path d="M876.7 108 L970.5 172"/>
<path d="M868 144.5 L961.7 208.7"/>
<path d="M854 179.5 L951.7 247"/>
<path d="M840.5 227.5 L938 295.5"/>
<path d="M791.7 252.5 L925 340"/>
<path d="M821.7 282.5 L911.7 382.5"/>
<path d="M778 405.7 L901.7 424.5"/>
<path d="M784 461 L887.5 476"/>
<path d="M757 500 L875.5 520"/>
<path d="M811.7 537.5 L858.5 576"/>
<path d="M785.5 571 L846.7 622"/>
<path d="M715 657 L835 665.5"/>
<path d="M702.5 695.7 L823.7 704.5"/>
<path d="M696 732.5 L812.5 743.7"/>
<path d="M696 790 L714.5 781.7"/>
<path d="M733.7 818.7 L765 804.5"/>
<path d="M550 645 L648.7 665.7"/>
<path d="M584.5 678.2 L628 687.5"/>
<path d="M550 702 L567.5 735 L616 760"/>
<path d="M593.7 720.5 L605 738.7 L636 758.7"/>
<path d="M630.5 736.7 L656 756"/>
<path d="M460 763.7 L500 861"/>
<path d="M495 763.7 L523.7 878.7"/>
<path d="M532.5 763.7 L585 843.7"/>
<path d="M575.5 763.7 L628.7 840"/>
<path d="M423 763 L480 835"/>
<path d="M384.5 763 L440 823.7"/>
<path d="M345 763 L421 852 L470 861"/>
<path d="M303 763 L423.7 907.5"/>
<path d="M266 763 L333 837.5"/>
<path d="M196 764.5 L174 779"/>
<path d="M257 838.7 L257 932.5"/>
<path d="M281 841 L263.7 938.7"/>
<path d="M151 990.5 L198.7 988.5"/>
<path d="M151 1046 L209.5 1024"/>
<path d="M151 1108.5 L237.5 1021"/>
<path d="M235.5 1119.7 L293.7 1064"/>
<path d="M319 1131 L367.5 1078.5"/>
<path d="M381 1135 L392.5 1082.5"/>
<path d="M295.5 1048.5 L301 971"/>
<path d="M331 1041 L313.7 1006"/>
<path d="M377.5 1042 L327.5 972"/>
<path d="M413.7 1048.7 L348.7 980"/>
<path d="M463.7 1048.7 L375 972.5"/>
<path d="M510 1048.7 L402.5 940"/>
</g>
<clipPath id="cl36"><rect x="960" y="150" width="29.2" height="30"/></clipPath>
<g class="n">
<text x="580.8" y="41.1">42</text>
<text x="567.8" y="85.1">41</text>
<text x="544.8" y="155.1">40</text>
<text x="534.8" y="192.1">39</text>
<text x="502.8" y="290.8">38</text>
<text x="488.8" y="341.1">37</text>
<text x="970.3" y="172.6" clip-path="url(#cl36)">36</text>
<text x="960.8" y="209.6">35</text>
<text x="950.8" y="247.6">28</text>
<text x="937.3" y="296.1">29</text>
<text x="924.3" y="340.8">34</text>
<text x="911.8" y="382.6">33</text>
<text x="901.3" y="424.6">32</text>
<text x="886.8" y="476.1">31</text>
<text x="874.8" y="520.1">30</text>
<text x="858.3" y="576.1">26</text>
<text x="845.8" y="622.6">25</text>
<text x="834.3" y="665.6">29</text>
<text x="822.8" y="704.6">28</text>
<text x="811.8" y="743.8">27</text>
<text x="713.8" y="781.8">22</text>
<text x="764.3" y="804.6">24</text>
<text x="528.3" y="645.1">25</text>
<text x="562.8" y="678.1">26</text>
<text x="529.8" y="702.1">21</text>
<text x="572.3" y="720.6">22</text>
<text x="609.3" y="736.8">23</text>
<text x="440.8" y="763.8">18</text>
<text x="475.8" y="763.8">19</text>
<text x="511.8" y="763.8">20</text>
<text x="555.8" y="763.8">19</text>
<text x="403.3" y="763.1">17</text>
<text x="364.3" y="763.1">16</text>
<text x="324.8" y="763.1">15</text>
<text x="281.8" y="763.1">14</text>
<text x="245.8" y="763.1">13</text>
<text x="192.8" y="763.1">43</text>
<text x="244.8" y="836.8">45</text>
<text x="274.8" y="836.8">44</text>
<text x="139.8" y="991.1">6</text>
<text x="139.8" y="1046.6">5</text>
<text x="139.3" y="1109.1">4</text>
<text x="224.3" y="1120.1">3</text>
<text x="307.8" y="1131.8">2</text>
<text x="369.3" y="1139.1">1</text>
<text x="284.8" y="1049.1">7</text>
<text x="330.3" y="1049.1">8</text>
<text x="375.3" y="1049.1">9</text>
<text x="414.3" y="1049.1">10</text>
<text x="463.8" y="1049.1">11</text>
<text x="511.3" y="1049.1">12</text>
</g>

<!-- 95_watermark.svg -->
<g style="mix-blend-mode:multiply">
<g fill="none" stroke="#707070" stroke-width="0.9" stroke-linejoin="round">
<path class="" d="M333.4 534.4 C332.9 532.3 329.5 526.6 330.3 521.9 C331.1 517.2 334.2 511.2 338.1 506.2 C342 501.3 348 495.8 353.8 492.2 C359.5 488.5 366.2 486.2 372.5 484.4 C378.8 482.6 385.5 481.6 391.2 481.2 C397 480.9 402.2 481.4 406.9 482 C411.6 482.7 417.3 484.6 419.4 485.2"/>
<path class="" d="M350.6 497.7 C354.3 495.8 365.7 489.1 372.5 486.7 C379.3 484.4 383.7 483.5 391.2 483.6 C398.8 483.7 413.4 486.8 417.8 487.5"/>
<path class="" d="M419.4 485.2 L422.5 486.2 L433.4 490.6 L430.3 503.1 L444.4 514.8 L411.6 514.8 L419.4 485.2"/>
<path class="" d="M354.5 504.7 C355.2 502.8 357.9 499.7 361.6 498.4 C365.2 497.2 374.8 495.5 381.9 495.3 C389 495.1 410.4 496.4 414.7 496.9 C419 497.4 418.1 499 413.9 499.2 C409.7 499.4 389 497.5 383.4 498.4 C377.9 499.4 375.2 504.3 372.5 506.2 C369.8 508.2 365.2 512.4 363.1 513.3 C361 514.1 358 513.6 356.9 512.5 C355.7 511.4 353.9 506.6 354.5 504.7Z"/>
<path class="" d="M360 500.8 C363.6 500.1 373 497.3 381.9 496.9 C390.7 496.4 407.9 497.9 413.1 498.1"/>
<path class="" d="M335 534.4 C336.8 532 341.5 523.6 345.9 520.3 C350.4 517.1 356.1 516.5 361.6 514.8 C367 513.2 373.3 511.2 378.8 510.2 C384.2 509.1 389.2 508.3 394.4 508.6 C399.6 508.9 407.4 511.2 410 511.7"/>
<path class="" d="M346.7 521.9 C349.3 521 357 518.1 362.3 516.4 C367.7 514.7 373.4 512.8 378.8 511.7 C384.1 510.7 389.2 509.9 394.4 510.2 C399.5 510.4 407.1 512.5 409.7 513"/>
<path class="" d="M335 535.2 C337.3 535 344.6 536.1 349.1 534.4 C353.5 532.7 357.7 527.9 361.6 525 C365.5 522.1 368.1 519.4 372.5 517.2 C376.9 515 381.9 512.4 388.1 511.7 C394.4 511.1 406.4 513 410 513.3"/>
<path class="" d="M351.4 498.4 C351 500 350.8 503.9 349.1 507.8 C347.4 511.7 343.7 517.4 341.2 521.9 C338.8 526.3 335.4 532.3 334.2 534.4"/>
<path class="" d="M324.8 524.7 Q306.9 550.9 329.5 567.2 Q331.9 535.3 324.8 524.7Z"/>
<path class="" d="M349.8 536.7 Q322.5 548.1 329.5 567.2 Q350.6 560.6 349.8 536.7Z"/>
<path class="" d="M315.5 564.1 Q310.5 590.6 341.2 598.4 Q338.6 568.8 315.5 564.1Z"/>
<path class="" d="M343.6 562.5 Q330.8 582 341.2 598.4 Q355.8 585.2 343.6 562.5Z"/>
<path class="" d="M328.8 603.9 Q343.3 634.8 368.6 620.3 Q355.8 603.6 328.8 603.9Z"/>
<path class="" d="M350.6 585.9 Q344.8 610.6 368.6 618 Q369.8 598.1 350.6 585.9Z"/>
<path class="" d="M377.2 606.2 L391.2 609.4 L406.9 607 L419.4 602.3 L433.4 600 L433.4 591.4 L467.8 591.4 L463.1 600 L450.6 597.7 L435 612.5 L439.7 624.2 L414.7 635.9 L406.9 625.8 L386.6 626.6 L379.5 638.3 L367 634.4 L377.2 606.2"/>
</g>
<g transform="translate(455 509) skewX(-10.5)" font-family="Liberation Sans, sans-serif" font-weight="bold" font-size="34.5" stroke-linejoin="miter" stroke-miterlimit="2.5"><text x="0" y="0" textLength="286" lengthAdjust="spacingAndGlyphs" fill="#707070" stroke="#707070" stroke-width="4.5">группа компаний</text><text x="0" y="0" textLength="286" lengthAdjust="spacingAndGlyphs" fill="#ffffff" stroke="#ffffff" stroke-width="2.7">группа компаний</text></g>
<g transform="translate(382 597) skewX(-13)" font-family="Liberation Sans, sans-serif" font-weight="bold" font-size="104" stroke-linejoin="miter" stroke-miterlimit="2.5"><text x="0" y="0" textLength="49" lengthAdjust="spacingAndGlyphs" fill="#707070" stroke="#707070" stroke-width="7.4">А</text><text x="0" y="0" textLength="49" lengthAdjust="spacingAndGlyphs" fill="#ffffff" stroke="#ffffff" stroke-width="5.6">А</text></g>
<g transform="translate(437 580.7) skewX(-10.5)" font-family="Liberation Sans, sans-serif" font-weight="bold" font-size="83" stroke-linejoin="miter" stroke-miterlimit="2.5"><text x="0" y="0" textLength="303" lengthAdjust="spacingAndGlyphs" fill="#707070" stroke="#707070" stroke-width="7.4">ГРОСНАБ</text><text x="0" y="0" textLength="303" lengthAdjust="spacingAndGlyphs" fill="#ffffff" stroke="#ffffff" stroke-width="5.6">ГРОСНАБ</text></g>
<g transform="translate(468 614.2) skewX(-10.5)" font-family="Liberation Sans, sans-serif" font-weight="bold" font-size="41" stroke-linejoin="miter" stroke-miterlimit="2.5"><text x="0" y="0" textLength="266" lengthAdjust="spacingAndGlyphs" fill="#707070" stroke="#707070" stroke-width="2.9">техсервис</text><text x="0" y="0" textLength="266" lengthAdjust="spacingAndGlyphs" fill="#ffffff" stroke="#ffffff" stroke-width="1.1">техсервис</text></g>
</g>

</svg>
</body>
</html>
